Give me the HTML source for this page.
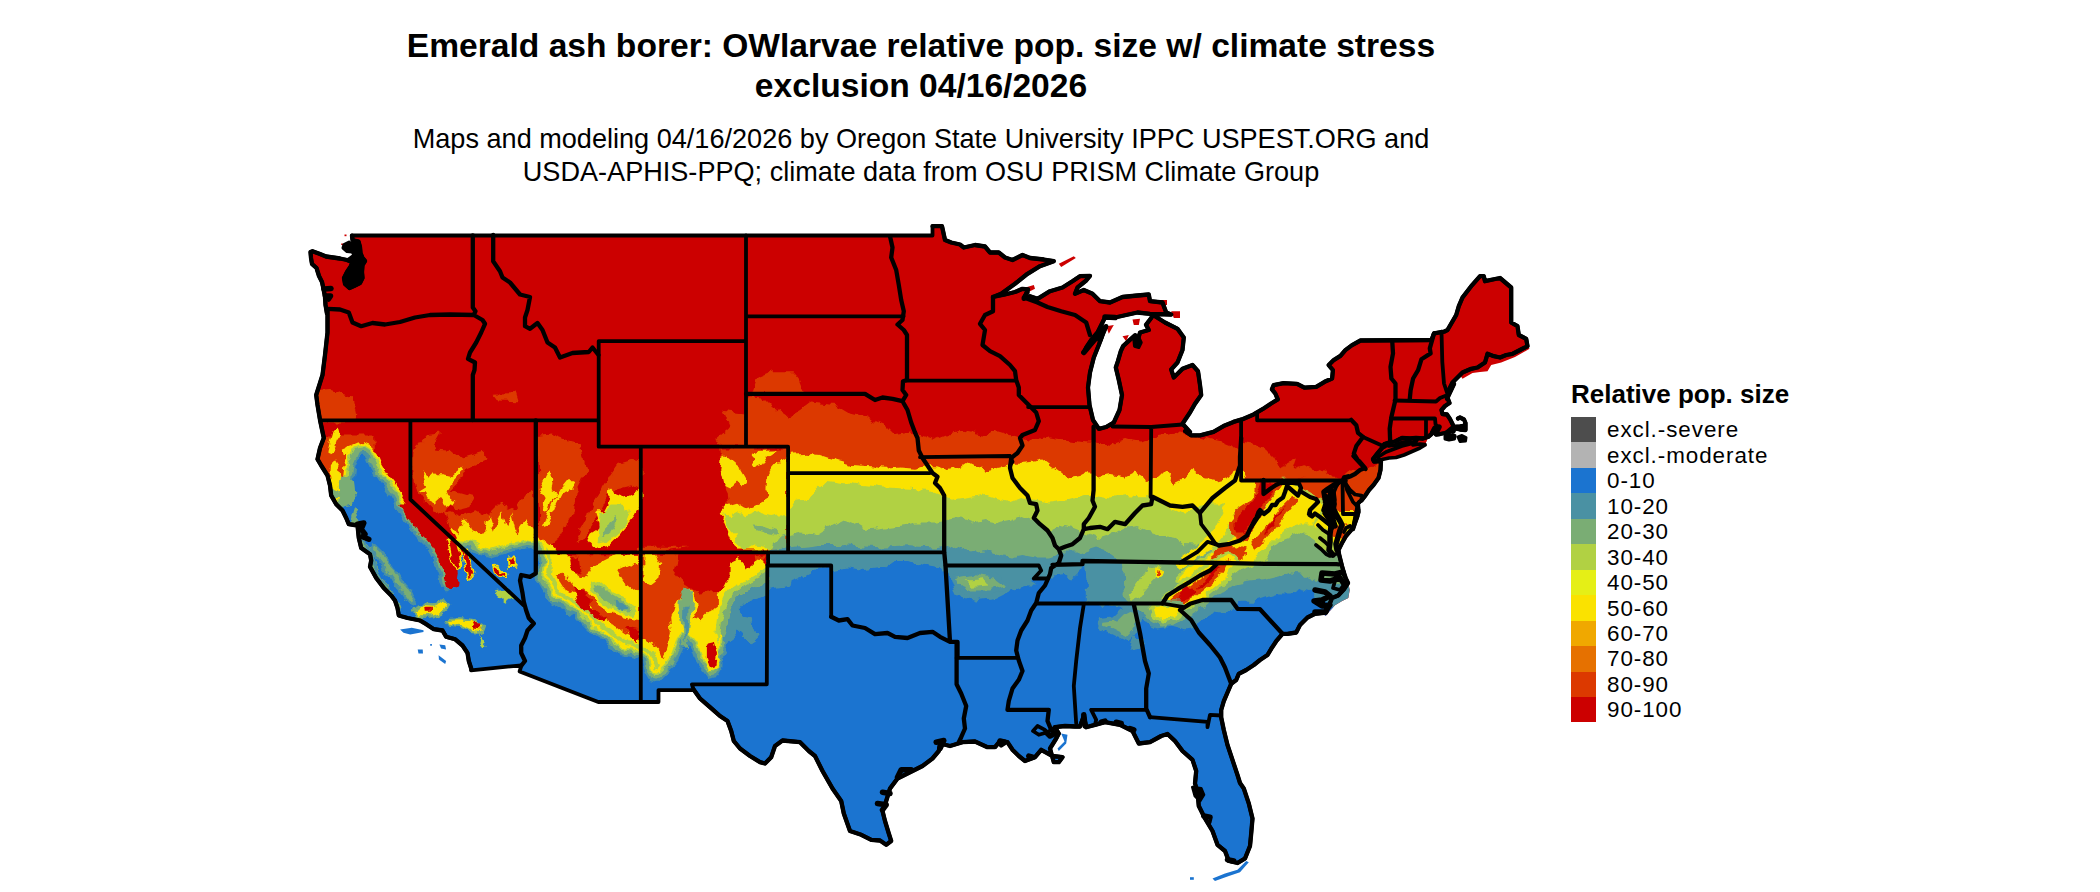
<!DOCTYPE html>
<html><head><meta charset="utf-8"><title>Emerald ash borer</title>
<style>
html,body{margin:0;padding:0;background:#fff;}
body{width:2100px;height:892px;position:relative;overflow:hidden;font-family:"Liberation Sans",sans-serif;color:#000;}
.t{position:absolute;white-space:nowrap;}
.title{left:0;width:1842px;text-align:center;font-weight:bold;font-size:33.6px;line-height:40px;top:25.5px;}
.sub{left:0;width:1842px;text-align:center;font-size:27.1px;line-height:33px;top:121.7px;}
.lt{left:1571px;top:379px;font-weight:bold;font-size:26px;line-height:30px;}
.ll{left:1607px;font-size:22.4px;line-height:26px;letter-spacing:0.95px;}
.sw{position:absolute;left:1571px;width:25px;height:25.5px;}
</style></head><body>

<svg width="2100" height="892" viewBox="0 0 2100 892" style="position:absolute;left:0;top:0">
<defs><clipPath id="land"><path d="M352.0,235.5 L932.5,235.5 L932.5,226.2 L942.0,226.2 L945.0,240.0 L951.2,242.5 L960.0,244.5 L963.8,247.5 L975.0,245.0 L985.0,246.5 L990.0,252.5 L998.8,252.5 L1005.0,257.5 L1012.5,260.0 L1022.5,255.0 L1030.0,258.0 L1043.8,259.5 L1053.8,261.2 L1040.0,266.2 L1027.5,273.8 L1015.0,283.8 L1001.2,293.8 L993.0,297.0 L1005.0,294.5 L1015.0,292.0 L1022.5,288.8 L1028.0,289.5 L1023.8,298.8 L1030.0,296.2 L1037.5,298.8 L1050.0,291.2 L1062.5,287.5 L1072.5,281.2 L1080.0,276.2 L1090.0,275.8 L1086.2,280.5 L1077.5,287.5 L1075.0,293.8 L1083.8,290.0 L1092.5,293.8 L1100.0,301.2 L1110.0,302.5 L1122.5,297.0 L1137.5,295.5 L1148.8,294.5 L1150.0,301.2 L1162.5,302.5 L1166.2,312.5 L1171.2,314.5 L1150.0,313.8 L1137.5,312.5 L1126.2,315.0 L1115.0,317.5 L1105.0,317.5 L1102.5,322.5 L1097.5,332.5 L1091.2,340.0 L1086.2,347.5 L1083.8,352.5 L1090.0,345.0 L1097.5,336.2 L1106.2,326.2 L1102.5,335.0 L1098.8,345.0 L1093.8,357.5 L1090.0,372.5 L1088.0,387.5 L1089.5,405.0 L1093.0,420.0 L1098.8,428.8 L1106.2,427.0 L1113.8,422.5 L1119.5,410.0 L1122.0,395.0 L1118.8,380.0 L1115.8,367.5 L1118.0,360.8 L1120.8,351.2 L1123.2,346.0 L1128.8,340.8 L1135.2,335.2 L1137.5,341.2 L1140.0,332.5 L1148.8,330.0 L1146.0,324.8 L1151.2,318.0 L1153.0,315.0 L1165.0,322.5 L1177.5,328.8 L1183.8,337.5 L1182.5,350.0 L1177.5,362.5 L1171.2,369.5 L1173.8,377.5 L1182.5,368.8 L1192.5,365.0 L1198.0,371.2 L1200.0,385.0 L1201.2,395.0 L1195.0,403.8 L1190.0,412.5 L1182.5,423.8 L1190.0,432.0 L1185.1,431.1 L1190.9,435.3 L1200.1,435.3 L1213.5,431.9 L1223.5,426.1 L1233.5,421.9 L1241.9,419.4 L1253.6,414.4 L1263.6,408.5 L1271.1,403.5 L1277.8,399.4 L1275.3,393.5 L1271.9,389.3 L1273.6,385.2 L1283.6,383.1 L1297.0,383.8 L1304.5,387.7 L1316.2,386.8 L1324.6,381.8 L1332.1,378.5 L1332.9,370.1 L1328.7,365.1 L1333.7,360.1 L1340.4,355.9 L1345.4,350.1 L1352.1,345.1 L1360.5,340.5 L1431.5,340.0 L1434.0,333.4 L1444.0,331.7 L1447.5,330.0 L1456.2,315.0 L1458.8,306.2 L1462.5,297.5 L1471.2,286.2 L1480.0,276.2 L1483.8,276.2 L1485.0,281.2 L1500.0,278.0 L1511.2,287.5 L1511.2,322.5 L1517.5,326.2 L1518.8,335.0 L1526.2,338.8 L1527.5,346.2 L1520.0,350.0 L1512.5,353.8 L1506.2,355.0 L1500.0,357.5 L1493.8,356.2 L1487.5,353.8 L1485.0,362.5 L1477.5,367.5 L1471.2,368.8 L1462.5,372.5 L1457.5,377.5 L1452.5,382.5 L1448.8,390.0 L1447.0,398.8 L1454.0,384.0 L1447.0,396.5 L1449.5,403.0 L1445.0,406.0 L1441.5,410.0 L1442.5,414.0 L1447.0,414.5 L1450.0,419.0 L1452.5,424.0 L1454.0,427.0 L1460.0,426.5 L1464.0,426.0 L1465.5,423.0 L1464.0,419.5 L1460.0,417.5 L1458.0,418.5 L1460.0,417.5 L1464.0,419.5 L1465.5,423.0 L1465.5,430.0 L1460.0,429.5 L1455.0,428.5 L1451.0,430.0 L1448.0,432.0 L1445.0,433.0 L1440.0,434.0 L1436.0,434.5 L1433.0,431.5 L1431.5,434.0 L1428.0,437.0 L1423.0,438.5 L1416.0,438.0 L1410.0,438.5 L1402.0,438.0 L1395.0,441.5 L1389.0,442.5 L1384.5,444.0 L1382.0,448.0 L1377.0,454.0 L1373.0,459.0 L1374.0,461.5 L1381.0,461.0 L1381.0,461.0 L1380.5,470.0 L1378.5,478.0 L1373.5,485.0 L1369.0,490.0 L1365.0,496.0 L1361.5,500.5 L1359.5,501.8 L1357.5,504.2 L1357.0,506.0 L1358.5,510.0 L1357.5,516.0 L1355.0,523.0 L1353.0,529.0 L1358.0,505.0 L1358.5,512.0 L1356.0,520.0 L1352.0,529.0 L1346.0,536.0 L1342.0,543.0 L1338.5,550.0 L1339.0,554.0 L1340.5,560.0 L1342.0,566.0 L1344.0,573.0 L1346.0,579.0 L1343.0,572.5 L1348.0,583.0 L1343.8,589.5 L1338.2,595.5 L1332.0,598.0 L1326.2,612.5 L1315.0,613.8 L1307.5,617.5 L1300.0,625.0 L1296.2,632.5 L1287.5,633.8 L1282.5,633.8 L1276.2,641.2 L1271.2,648.8 L1267.5,655.0 L1260.0,660.0 L1253.8,665.0 L1246.2,670.0 L1238.8,673.8 L1236.2,680.0 L1231.2,683.8 L1227.5,692.5 L1223.8,701.2 L1221.2,710.0 L1221.2,717.5 L1223.8,730.0 L1227.5,745.0 L1232.5,760.0 L1237.5,775.0 L1240.0,783.0 L1243.8,788.5 L1248.8,803.5 L1252.5,818.5 L1251.2,833.5 L1250.0,846.0 L1245.0,858.5 L1237.5,863.0 L1228.8,861.0 L1225.0,851.0 L1217.5,844.8 L1212.5,831.0 L1205.0,818.5 L1198.8,806.0 L1197.5,792.2 L1195.0,783.5 L1196.2,771.0 L1192.5,759.8 L1182.5,751.0 L1175.0,741.0 L1167.5,734.0 L1161.2,736.0 L1150.0,742.2 L1138.8,743.5 L1132.5,731.0 L1120.0,724.8 L1105.0,722.2 L1095.0,724.8 L1086.2,727.2 L1083.8,716.0 L1080.0,726.5 L1075.0,726.5 L1065.0,726.0 L1055.0,727.2 L1058.8,733.5 L1056.2,738.5 L1050.0,748.5 L1053.8,762.2 L1058.8,762.2 L1062.5,757.2 L1052.5,756.0 L1041.2,749.8 L1035.0,757.2 L1025.0,761.0 L1018.8,756.0 L1012.5,749.8 L1007.5,742.2 L1000.0,741.0 L995.0,747.2 L987.5,747.2 L975.0,741.5 L962.5,742.2 L950.0,746.0 L940.0,743.5 L938.8,751.0 L932.5,758.5 L922.5,766.0 L910.0,772.2 L897.5,778.5 L890.0,788.5 L886.2,801.0 L882.5,811.0 L885.0,821.0 L888.8,833.5 L891.2,841.0 L886.2,844.8 L880.0,840.5 L871.2,839.8 L861.2,834.8 L850.0,831.0 L843.8,813.5 L841.2,801.0 L832.5,788.5 L822.5,771.0 L815.0,756.0 L808.8,751.0 L800.0,742.2 L782.5,740.5 L775.0,746.0 L771.2,757.2 L765.0,763.5 L760.0,762.2 L750.0,756.0 L740.0,748.5 L733.8,741.0 L731.2,731.0 L727.5,721.0 L720.0,716.0 L710.0,707.2 L700.0,698.5 L693.8,689.8 L693.8,690.1 L658.5,690.1 L658.5,702.0 L598.3,702.0 L519.6,671.4 L521.5,665.3 L471.0,670.3 L471.2,668.5 L468.8,661.0 L467.5,653.0 L462.5,645.5 L455.0,639.2 L446.2,636.8 L442.5,630.5 L433.8,629.2 L426.2,624.2 L420.0,620.5 L407.5,618.0 L398.8,615.5 L397.5,608.0 L395.0,600.5 L391.2,595.5 L383.8,588.0 L376.2,578.0 L370.0,566.8 L371.2,560.5 L370.0,554.2 L361.2,548.0 L358.8,538.0 L357.5,525.5 L348.8,524.2 L346.2,518.0 L342.5,510.5 L336.2,504.2 L331.2,495.5 L330.0,485.5 L327.5,475.5 L321.2,465.5 L317.5,459.2 L320.0,448.0 L323.8,438.0 L320.0,420.0 L317.5,405.0 L316.2,395.0 L322.5,375.0 L325.0,355.0 L327.5,332.5 L327.5,315.0 L327.5,308.8 L327.0,314.0 L326.5,311.0 L325.5,305.0 L325.0,297.0 L323.5,289.0 L322.0,282.0 L319.0,276.0 L316.5,268.0 L312.0,264.0 L311.0,258.0 L310.5,252.0 L312.5,251.2 L320.0,254.0 L326.0,256.5 L333.0,257.5 L340.0,258.5 L347.0,260.0 L352.0,262.0 L351.0,266.0 L347.0,272.0 L344.0,278.0 L345.0,284.0 L349.5,288.0 L354.0,286.0 L360.0,283.0 L362.5,278.0 L362.0,272.0 L362.5,265.0 L365.0,261.0 L362.5,258.0 L360.5,253.0 L360.0,247.0 L358.5,241.5 L352.5,240.0 L352.0,235.7Z"/><path d="M1348.3,583.3 L1349.7,590.0 L1348.3,598.0 L1341.7,601.3 L1335.0,605.3 L1328.3,612.7 L1325.7,616.0 L1321.7,612.7 L1331.7,600.0 L1343.7,589.3Z"/><path d="M1373.0,460.0 L1382.0,459.5 L1389.0,458.0 L1396.0,457.5 L1404.0,455.0 L1412.0,451.5 L1420.0,448.0 L1425.0,445.0 L1424.0,442.0 L1418.0,440.0 L1410.0,444.0 L1402.0,446.0 L1394.0,449.0 L1386.0,452.0 L1378.0,457.0Z"/><path d="M1373.0,460.0 L1384.5,444.0 L1395.0,441.5 L1402.0,438.0 L1416.0,438.0 L1428.0,437.0 L1425.0,445.0 L1420.0,448.0 L1404.0,455.0 L1389.0,458.0Z"/></clipPath></defs>
<defs><filter id="rough" x="0" y="0" width="2100" height="892" filterUnits="userSpaceOnUse" color-interpolation-filters="sRGB"><feTurbulence type="fractalNoise" baseFrequency="0.09" numOctaves="3" seed="7" result="n"/><feDisplacementMap in="SourceGraphic" in2="n" scale="9" xChannelSelector="R" yChannelSelector="G"/></filter></defs>
<g clip-path="url(#land)">
<rect x="270" y="200" width="1300" height="700" fill="#cc0000"/>
<g filter="url(#rough)">
<rect x="270" y="200" width="1300" height="700" fill="#cc0000"/>
<path d="M315.0,391.2 L330.0,390.0 L352.5,397.5 L356.2,415.0 L355.0,422.5 L315.0,422.5Z" fill="#dc3900"/>
<path d="M315.0,435.5 L375.0,435.5 L376.2,453.0 L365.0,454.2 L353.8,465.5 L348.8,483.0 L340.0,495.5 L332.5,498.0 L327.5,475.5 L315.0,459.2Z" fill="#dc3900"/>
<path d="M492.5,393.8 L516.2,393.0 L518.8,401.2 L497.5,400.5Z" fill="#dc3900"/>
<path d="M722.5,410.0 L745.5,412.5 L745.5,446.2 L723.8,446.2 L715.0,440.0 L730.0,427.5Z" fill="#dc3900"/>
<path d="M752.5,393.0 L757.5,377.5 L772.5,371.2 L792.5,371.2 L800.0,380.0 L805.0,393.0Z" fill="#dc3900"/>
<path d="M413.6,451.8 L427.0,435.1 L442.0,433.4 L433.6,448.4 L450.4,450.1 L460.4,458.4 L483.8,451.8 L485.4,460.1 L467.1,468.5 L460.4,480.2 L450.4,490.2 L473.7,496.9 L470.4,506.9 L457.0,510.2 L450.4,503.6 L443.7,513.6 L433.6,510.2 L423.6,500.2 L415.3,488.5 L411.9,468.5Z" fill="#dc3900"/>
<path d="M442.0,510.2 L458.7,516.9 L475.4,510.2 L487.1,516.9 L500.5,503.6 L513.8,510.2 L525.5,493.5 L533.9,490.2 L537.2,543.6 L525.5,547.0 L513.8,543.6 L500.5,545.3 L487.1,547.0 L475.4,548.7 L463.7,542.0 L453.7,533.6 L447.0,523.6Z" fill="#dc3900"/>
<path d="M538.1,435.1 L550.6,433.4 L567.3,440.1 L580.7,443.4 L584.0,460.1 L587.3,468.5 L582.3,480.2 L575.6,493.5 L574.0,510.2 L567.3,523.6 L560.6,537.0 L550.6,545.3 L538.1,547.0Z" fill="#dc3900"/>
<path d="M609.1,476.8 L617.4,465.1 L634.1,460.1 L641.6,461.8 L641.6,490.2 L630.8,485.2 L617.4,488.5 L607.4,496.9 L599.0,513.6 L590.7,526.9 L584.0,540.3 L575.6,543.6 L580.7,526.9 L590.7,510.2 L594.0,500.2Z" fill="#dc3900"/>
<path d="M537.1,554.2 L639.0,554.2 L639.0,546.7 L690.0,546.7 L643.4,553.4 L678.5,554.2 L675.2,573.4 L683.5,583.4 L693.6,590.1 L700.2,593.5 L716.9,591.8 L727.0,590.1 L732.0,581.8 L738.7,573.4 L745.3,570.1 L755.4,568.4 L753.7,556.7 L765.4,554.2 L765.4,590.1 L750.4,596.8 L742.0,596.8 L733.6,613.5 L732.0,633.6 L727.0,646.9 L720.3,670.3 L706.9,672.0 L700.2,663.6 L693.6,646.9 L686.9,633.6 L680.2,643.6 L675.2,656.9 L668.5,663.6 L656.8,660.3 L648.4,651.9 L642.6,643.6 L639.0,646.9 L630.7,650.3 L620.7,648.6 L610.6,641.9 L600.6,633.6 L590.6,626.9 L582.2,618.5 L573.9,608.5 L562.2,603.5 L552.2,596.8 L545.5,586.8 L540.5,576.8 L537.1,566.7Z" fill="#dc3900"/>
<path d="M720.3,448.4 L787.2,448.4 L787.2,549.5 L737.0,549.5 L733.7,543.6 L730.4,536.9 L727.0,528.6 L723.7,520.2 L718.7,513.6 L723.7,510.2 L728.7,503.5 L727.8,493.5 L723.7,485.2 L720.3,470.1 L721.2,461.8Z" fill="#dc3900"/>
<path d="M330.9,465.1 L335.9,460.1 L340.1,466.8 L341.8,480.2 L340.1,496.9 L335.9,503.6 L332.6,490.2 L330.1,476.8Z" fill="#fae200"/>
<path d="M333.4,431.7 L337.6,426.7 L339.3,433.4 L335.9,443.4 L332.6,453.4 L328.4,451.8Z" fill="#fae200"/>
<path d="M341.8,448.4 L355.1,443.4 L357.6,447.6 L348.4,455.1 L342.6,455.1Z" fill="#fae200"/>
<path d="M432.0,470.1 L437.0,475.2 L443.7,475.2 L450.4,476.8 L460.4,468.5 L462.0,471.8 L450.4,483.5 L447.0,488.5 L450.4,496.9 L455.4,501.0 L453.7,505.2 L445.3,503.6 L440.3,496.9 L433.6,503.6 L427.0,500.2 L425.3,493.5 L418.6,491.9 L427.0,486.8 L423.6,476.8 L422.8,470.1 L428.6,476.8Z" fill="#fae200"/>
<path d="M450.4,526.9 L458.7,532.8 L465.4,520.3 L473.7,532.8 L483.8,531.1 L488.8,516.9 L493.8,532.8 L502.1,510.2 L507.2,525.3 L512.2,513.6 L517.2,532.8 L525.5,520.3 L533.9,531.1 L537.2,545.3 L467.1,548.7 L457.0,540.3Z" fill="#fae200"/>
<path d="M545.6,476.8 L550.6,468.5 L552.3,480.2 L550.6,490.2 L557.3,493.5 L550.6,503.6 L547.2,513.6 L542.2,510.2 L545.6,496.9 L540.6,488.5Z" fill="#fae200"/>
<path d="M560.6,488.5 L567.3,480.2 L575.6,480.2 L570.6,490.2 L562.3,493.5 L553.9,510.2 L548.9,523.6 L543.9,525.3 L550.6,508.6 L555.6,496.9Z" fill="#fae200"/>
<path d="M610.7,488.5 L617.4,493.5 L627.4,496.9 L641.6,490.2 L641.6,503.6 L634.1,516.9 L625.8,526.9 L617.4,537.0 L607.4,547.0 L594.0,548.7 L587.3,540.3 L590.7,533.6 L600.7,526.9 L595.7,510.2 L604.0,510.2 L609.1,500.2Z" fill="#fae200"/>
<path d="M537.1,554.2 L570.5,554.2 L568.9,560.0 L572.2,571.7 L580.6,578.4 L587.2,576.8 L590.6,566.7 L600.6,561.7 L614.0,555.0 L639.0,555.0 L639.0,566.7 L627.3,565.1 L617.3,570.1 L624.0,581.8 L634.0,590.1 L639.0,593.5 L639.0,620.2 L627.3,618.5 L615.6,615.2 L600.6,606.8 L590.6,595.1 L583.9,588.4 L573.9,590.1 L570.5,581.8 L562.2,573.4 L555.5,578.4 L553.8,590.1 L562.2,595.1 L572.2,595.1 L555.5,603.5 L545.5,595.1 L538.8,581.8 L537.1,566.7Z" fill="#fae200"/>
<path d="M643.4,555.0 L655.1,555.0 L660.1,563.4 L658.5,578.4 L650.1,585.1 L643.4,581.8Z" fill="#fae200"/>
<path d="M728.6,563.4 L738.7,558.4 L747.0,568.4 L760.4,558.4 L765.4,560.0 L765.4,590.1 L750.4,596.8 L742.0,596.8 L733.6,613.5 L732.0,633.6 L727.0,646.9 L720.3,670.3 L706.9,672.0 L700.2,663.6 L693.6,646.9 L686.9,633.6 L680.2,643.6 L675.2,656.9 L668.5,663.6 L660.1,662.0 L666.8,650.3 L671.8,633.6 L670.2,618.5 L673.5,606.8 L681.9,595.1 L690.2,588.4 L695.2,595.1 L696.9,606.8 L693.6,618.5 L700.2,620.2 L706.9,613.5 L716.9,606.8 L716.9,595.1 L723.6,588.4 L728.6,578.4Z" fill="#fae200"/>
<path d="M600.7,513.6 L610.7,503.6 L620.7,503.6 L630.8,510.2 L627.4,523.6 L617.4,533.6 L607.4,542.0 L597.4,543.6 L599.0,530.3Z" fill="#b1d143"/>
<path d="M607.4,526.9 L614.1,516.9 L617.4,520.3 L610.7,532.0 L604.0,538.6Z" fill="#7aad74"/>
<path d="M722.8,454.2 L733.7,463.4 L740.4,468.4 L746.2,478.5 L741.2,486.8 L737.0,482.6 L730.4,488.5 L723.7,485.2 L720.3,470.1 L722.0,458.4Z" fill="#fae200"/>
<path d="M759.6,450.1 L777.1,449.2 L767.1,455.9 L762.1,463.4 L753.7,467.6 L750.4,463.4 L755.4,459.3 L750.4,455.9Z" fill="#fae200"/>
<path d="M787.2,455.9 L780.5,460.1 L772.1,470.1 L766.3,480.1 L765.4,488.5 L769.6,496.8 L760.4,501.9 L753.7,505.2 L745.4,507.7 L738.7,503.5 L730.4,506.0 L728.7,503.5 L718.7,513.6 L723.7,520.2 L727.0,528.6 L730.4,536.9 L733.7,543.6 L737.0,549.5 L787.2,549.5Z" fill="#fae200"/>
<path d="M722.0,513.6 L730.4,515.2 L738.7,511.0 L745.4,515.2 L757.1,511.0 L763.8,515.2 L772.1,516.9 L780.5,515.2 L787.2,518.6 L787.2,549.5 L767.1,549.5 L762.1,545.3 L753.7,544.5 L747.1,548.6 L740.4,549.5 L737.0,543.6 L735.4,535.3 L730.4,530.3 L727.0,523.6Z" fill="#b1d143"/>
<path d="M787.2,533.6 L778.8,536.9 L773.8,543.6 L772.1,549.5 L787.2,549.5Z" fill="#7aad74"/>
<path d="M753.7,524.4 L763.8,525.2 L778.8,530.3 L778.8,535.3 L767.1,533.6 L757.1,530.3Z" fill="#7aad74"/>
<path d="M327.5,478.0 L336.2,483.0 L348.8,481.8 L354.5,488.0 L355.5,503.0 L350.0,496.8 L340.0,491.8 L330.0,488.0Z" fill="#fae200"/>
<path d="M330.0,488.0 L340.0,491.8 L350.0,496.8 L355.5,503.0 L358.8,520.5 L361.2,530.5 L367.5,545.5 L373.8,558.0 L380.0,571.8 L387.5,584.2 L395.0,595.5 L400.0,605.5 L397.5,613.0 L391.2,598.0 L382.5,588.0 L375.0,578.0 L368.8,565.5 L370.5,559.2 L368.0,554.2 L360.0,548.0 L357.5,538.0 L355.5,525.5 L347.5,524.2 L345.0,518.0 L341.2,510.5 L335.0,504.2 L330.0,495.5Z" fill="#7aad74"/>
<path d="M537.5,560.0 L535.5,578.4 L542.1,590.1 L550.5,603.5 L562.2,610.2 L573.9,615.2 L582.2,625.2 L590.6,633.6 L600.6,640.2 L610.6,648.6 L620.7,655.3 L630.7,656.9 L640.7,660.3 L641.8,660.3 L645.1,672.0 L650.1,680.3" fill="none" stroke="#fae200" stroke-width="40.0" stroke-linejoin="round" stroke-linecap="round"/>
<path d="M537.5,560.0 L535.5,578.4 L542.1,590.1 L550.5,603.5 L562.2,610.2 L573.9,615.2 L582.2,625.2 L590.6,633.6 L600.6,640.2 L610.6,648.6 L620.7,655.3 L630.7,656.9 L640.7,660.3 L641.8,660.3 L645.1,672.0 L650.1,680.3" fill="none" stroke="#b1d143" stroke-width="30.0" stroke-linejoin="round" stroke-linecap="round"/>
<path d="M537.5,560.0 L535.5,578.4 L542.1,590.1 L550.5,603.5 L562.2,610.2 L573.9,615.2 L582.2,625.2 L590.6,633.6 L600.6,640.2 L610.6,648.6 L620.7,655.3 L630.7,656.9 L640.7,660.3 L641.8,660.3 L645.1,672.0 L650.1,680.3" fill="none" stroke="#7aad74" stroke-width="21.0" stroke-linejoin="round" stroke-linecap="round"/>
<path d="M537.5,560.0 L535.5,578.4 L542.1,590.1 L550.5,603.5 L562.2,610.2 L573.9,615.2 L582.2,625.2 L590.6,633.6 L600.6,640.2 L610.6,648.6 L620.7,655.3 L630.7,656.9 L640.7,660.3 L641.8,660.3 L645.1,672.0 L650.1,680.3" fill="none" stroke="#4a91a3" stroke-width="9.0" stroke-linejoin="round" stroke-linecap="round"/>
<path d="M397.5,618.0 L401.2,613.0 L400.0,605.5 L395.0,595.5 L387.5,584.2 L380.0,571.8 L373.8,558.0 L367.5,545.5 L361.2,530.5 L357.5,524.2 L348.8,524.2 L345.5,519.2 L341.2,513.0 L343.8,506.0 L352.5,503.5 L355.5,495.5 L353.8,480.5 L355.5,465.5 L361.2,453.0 L365.0,455.5 L370.5,468.0 L378.0,480.5 L388.0,493.5 L395.5,506.0 L403.0,518.5 L410.5,531.0 L420.0,541.0 L427.5,548.5 L433.8,560.5 L437.5,573.0 L440.0,583.0 L447.5,592.5 L455.5,585.5 L457.0,574.2 L453.8,563.0 L451.2,553.0 L460.0,548.0 L470.0,549.2 L480.0,555.0 L490.0,558.0 L502.5,554.2 L515.0,550.5 L527.5,548.0 L536.2,549.2 L537.5,560.0 L535.5,578.4 L542.1,590.1 L550.5,603.5 L562.2,610.2 L573.9,615.2 L582.2,625.2 L590.6,633.6 L600.6,640.2 L610.6,648.6 L620.7,655.3 L630.7,656.9 L640.7,660.3 L641.8,660.3 L645.1,672.0 L650.1,680.3 L658.5,682.0 L666.8,673.6 L673.5,667.0 L678.5,660.3 L681.9,650.3 L685.2,640.2 L690.2,646.9 L693.6,656.9 L700.2,667.0 L705.2,673.6 L708.6,678.7 L716.9,677.0 L722.0,668.6 L723.6,656.9 L727.0,646.9 L732.0,638.6 L738.7,630.2 L747.0,636.9 L752.0,643.6 L757.0,640.2 L755.4,630.2 L750.4,620.2 L742.0,618.5 L738.7,611.8 L745.3,603.5 L755.4,598.5 L765.4,595.1 L768.7,590.1" fill="none" stroke="#fae200" stroke-width="22.0" stroke-linejoin="round" stroke-linecap="round"/>
<path d="M397.5,618.0 L401.2,613.0 L400.0,605.5 L395.0,595.5 L387.5,584.2 L380.0,571.8 L373.8,558.0 L367.5,545.5 L361.2,530.5 L357.5,524.2 L348.8,524.2 L345.5,519.2 L341.2,513.0 L343.8,506.0 L352.5,503.5 L355.5,495.5 L353.8,480.5 L355.5,465.5 L361.2,453.0 L365.0,455.5 L370.5,468.0 L378.0,480.5 L388.0,493.5 L395.5,506.0 L403.0,518.5 L410.5,531.0 L420.0,541.0 L427.5,548.5 L433.8,560.5 L437.5,573.0 L440.0,583.0 L447.5,592.5 L455.5,585.5 L457.0,574.2 L453.8,563.0 L451.2,553.0 L460.0,548.0 L470.0,549.2 L480.0,555.0 L490.0,558.0 L502.5,554.2 L515.0,550.5 L527.5,548.0 L536.2,549.2 L537.5,560.0 L535.5,578.4 L542.1,590.1 L550.5,603.5 L562.2,610.2 L573.9,615.2 L582.2,625.2 L590.6,633.6 L600.6,640.2 L610.6,648.6 L620.7,655.3 L630.7,656.9 L640.7,660.3 L641.8,660.3 L645.1,672.0 L650.1,680.3 L658.5,682.0 L666.8,673.6 L673.5,667.0 L678.5,660.3 L681.9,650.3 L685.2,640.2 L690.2,646.9 L693.6,656.9 L700.2,667.0 L705.2,673.6 L708.6,678.7 L716.9,677.0 L722.0,668.6 L723.6,656.9 L727.0,646.9 L732.0,638.6 L738.7,630.2 L747.0,636.9 L752.0,643.6 L757.0,640.2 L755.4,630.2 L750.4,620.2 L742.0,618.5 L738.7,611.8 L745.3,603.5 L755.4,598.5 L765.4,595.1 L768.7,590.1" fill="none" stroke="#b1d143" stroke-width="17.0" stroke-linejoin="round" stroke-linecap="round"/>
<path d="M397.5,618.0 L401.2,613.0 L400.0,605.5 L395.0,595.5 L387.5,584.2 L380.0,571.8 L373.8,558.0 L367.5,545.5 L361.2,530.5 L357.5,524.2 L348.8,524.2 L345.5,519.2 L341.2,513.0 L343.8,506.0 L352.5,503.5 L355.5,495.5 L353.8,480.5 L355.5,465.5 L361.2,453.0 L365.0,455.5 L370.5,468.0 L378.0,480.5 L388.0,493.5 L395.5,506.0 L403.0,518.5 L410.5,531.0 L420.0,541.0 L427.5,548.5 L433.8,560.5 L437.5,573.0 L440.0,583.0 L447.5,592.5 L455.5,585.5 L457.0,574.2 L453.8,563.0 L451.2,553.0 L460.0,548.0 L470.0,549.2 L480.0,555.0 L490.0,558.0 L502.5,554.2 L515.0,550.5 L527.5,548.0 L536.2,549.2 L537.5,560.0 L535.5,578.4 L542.1,590.1 L550.5,603.5 L562.2,610.2 L573.9,615.2 L582.2,625.2 L590.6,633.6 L600.6,640.2 L610.6,648.6 L620.7,655.3 L630.7,656.9 L640.7,660.3 L641.8,660.3 L645.1,672.0 L650.1,680.3 L658.5,682.0 L666.8,673.6 L673.5,667.0 L678.5,660.3 L681.9,650.3 L685.2,640.2 L690.2,646.9 L693.6,656.9 L700.2,667.0 L705.2,673.6 L708.6,678.7 L716.9,677.0 L722.0,668.6 L723.6,656.9 L727.0,646.9 L732.0,638.6 L738.7,630.2 L747.0,636.9 L752.0,643.6 L757.0,640.2 L755.4,630.2 L750.4,620.2 L742.0,618.5 L738.7,611.8 L745.3,603.5 L755.4,598.5 L765.4,595.1 L768.7,590.1" fill="none" stroke="#7aad74" stroke-width="13.0" stroke-linejoin="round" stroke-linecap="round"/>
<path d="M397.5,618.0 L401.2,613.0 L400.0,605.5 L395.0,595.5 L387.5,584.2 L380.0,571.8 L373.8,558.0 L367.5,545.5 L361.2,530.5 L357.5,524.2 L348.8,524.2 L345.5,519.2 L341.2,513.0 L343.8,506.0 L352.5,503.5 L355.5,495.5 L353.8,480.5 L355.5,465.5 L361.2,453.0 L365.0,455.5 L370.5,468.0 L378.0,480.5 L388.0,493.5 L395.5,506.0 L403.0,518.5 L410.5,531.0 L420.0,541.0 L427.5,548.5 L433.8,560.5 L437.5,573.0 L440.0,583.0 L447.5,592.5 L455.5,585.5 L457.0,574.2 L453.8,563.0 L451.2,553.0 L460.0,548.0 L470.0,549.2 L480.0,555.0 L490.0,558.0 L502.5,554.2 L515.0,550.5 L527.5,548.0 L536.2,549.2 L537.5,560.0 L535.5,578.4 L542.1,590.1 L550.5,603.5 L562.2,610.2 L573.9,615.2 L582.2,625.2 L590.6,633.6 L600.6,640.2 L610.6,648.6 L620.7,655.3 L630.7,656.9 L640.7,660.3 L641.8,660.3 L645.1,672.0 L650.1,680.3 L658.5,682.0 L666.8,673.6 L673.5,667.0 L678.5,660.3 L681.9,650.3 L685.2,640.2 L690.2,646.9 L693.6,656.9 L700.2,667.0 L705.2,673.6 L708.6,678.7 L716.9,677.0 L722.0,668.6 L723.6,656.9 L727.0,646.9 L732.0,638.6 L738.7,630.2 L747.0,636.9 L752.0,643.6 L757.0,640.2 L755.4,630.2 L750.4,620.2 L742.0,618.5 L738.7,611.8 L745.3,603.5 L755.4,598.5 L765.4,595.1 L768.7,590.1" fill="none" stroke="#4a91a3" stroke-width="6.0" stroke-linejoin="round" stroke-linecap="round"/>
<path d="M746.2,410.0 L747.5,396.2 L762.5,397.5 L772.5,407.5 L787.5,417.5 L800.0,410.0 L810.0,402.5 L835.0,405.0 L847.5,412.5 L867.5,417.5 L885.0,425.0 L895.0,435.0 L910.0,432.5 L920.0,435.0 L935.0,440.0 L947.5,435.0 L960.0,430.0 L972.5,432.5 L985.0,435.0 L997.5,431.2 L1010.0,435.0 L1020.0,437.5 L1035.0,440.0 L1050.0,437.5 L1067.5,440.0 L1085.0,442.5 L1095.0,442.5 L1110.0,445.0 L1125.0,440.0 L1140.0,442.5 L1151.2,440.0 L1160.0,435.0 L1175.0,432.5 L1185.0,435.0 L1197.5,437.5 L1210.0,440.0 L1222.5,442.5 L1235.0,447.5 L1241.2,452.5 L1243.0,443.0 L1255.0,445.0 L1267.0,450.0 L1275.0,458.0 L1280.0,468.0 L1290.0,476.0 L1300.0,479.0 L1320.0,474.0 L1335.0,477.0 L1345.0,479.0 L1350.0,470.0 L1360.0,472.0 L1368.0,470.0 L1378.0,463.0 L1400.0,460.0 L1400.0,900.0 L788.5,900.0 L788.5,446.2 L746.0,446.2Z" fill="#dc3900"/>
<path d="M788.8,455.0 L805.0,453.8 L820.0,455.0 L835.0,460.0 L852.5,465.0 L870.0,466.2 L885.0,468.8 L900.0,467.5 L915.0,468.8 L925.0,466.2 L935.0,466.2 L947.5,470.0 L960.0,467.5 L967.5,462.5 L977.5,467.5 L987.5,470.0 L1000.0,467.5 L1010.0,463.8 L1022.5,463.8 L1035.0,462.5 L1045.0,460.0 L1055.0,467.5 L1067.5,477.5 L1080.0,475.0 L1090.0,470.0 L1097.5,477.5 L1110.0,475.0 L1125.0,477.5 L1135.0,472.5 L1147.5,480.0 L1157.5,477.5 L1165.0,470.0 L1175.0,482.5 L1185.0,477.5 L1192.5,470.0 L1202.5,477.5 L1215.0,480.0 L1225.0,477.5 L1235.0,472.5 L1240.0,465.0 L1245.0,478.0 L1255.0,490.0 L1270.0,495.0 L1287.0,497.0 L1297.0,500.0 L1303.6,497.0 L1313.6,502.0 L1318.6,503.5 L1330.0,508.0 L1338.7,512.0 L1355.4,512.0 L1380.0,512.0 L1380.0,900.0 L788.8,900.0Z" fill="#fae200"/>
<path d="M788.8,510.0 L795.0,500.0 L810.0,497.5 L822.5,485.0 L827.5,480.0 L847.5,482.5 L865.0,485.0 L885.0,487.5 L910.0,488.8 L930.0,490.0 L942.5,495.0 L955.0,500.0 L972.5,497.5 L985.0,495.0 L1000.0,500.0 L1010.0,502.5 L1022.5,497.5 L1035.0,500.0 L1050.0,502.5 L1067.5,500.0 L1085.0,495.0 L1095.0,495.0 L1110.0,497.5 L1125.0,495.0 L1140.0,496.2 L1150.0,496.2 L1160.0,505.0 L1175.0,510.0 L1185.0,515.0 L1192.5,507.5 L1202.5,505.0 L1210.0,502.5 L1225.0,500.0 L1235.0,505.0 L1245.0,510.0 L1255.0,520.0 L1265.0,527.0 L1280.0,523.5 L1290.0,520.0 L1300.0,523.5 L1310.0,523.5 L1318.6,528.5 L1327.0,530.0 L1335.0,545.0 L1345.0,540.0 L1352.0,530.0 L1380.0,530.0 L1380.0,900.0 L788.8,900.0Z" fill="#b1d143"/>
<path d="M788.8,535.0 L800.0,532.5 L817.5,535.0 L830.0,527.5 L845.0,520.0 L852.5,522.5 L865.0,530.0 L885.0,527.5 L905.0,525.0 L915.0,522.5 L935.0,522.5 L947.5,520.0 L960.0,517.5 L972.5,522.5 L985.0,520.0 L997.5,522.5 L1010.0,520.0 L1022.5,515.0 L1035.0,520.0 L1047.5,531.2 L1060.0,525.0 L1072.5,528.0 L1085.0,533.0 L1097.5,538.0 L1110.0,533.8 L1125.0,529.0 L1135.0,527.0 L1145.0,531.2 L1160.0,536.2 L1175.0,538.8 L1185.0,543.0 L1197.5,543.8 L1205.0,547.5 L1215.0,552.0 L1222.0,562.0 L1227.0,580.0 L1240.5,570.0 L1250.5,566.7 L1264.0,562.0 L1273.5,547.0 L1283.6,538.6 L1297.0,533.6 L1307.0,535.2 L1313.6,540.0 L1318.7,547.0 L1330.0,552.0 L1345.0,556.0 L1380.0,556.0 L1380.0,900.0 L788.8,900.0Z" fill="#7aad74"/>
<path d="M768.0,550.0 L797.5,547.5 L822.5,545.0 L840.0,545.0 L860.0,546.2 L885.0,547.5 L910.0,546.2 L935.0,547.5 L947.5,545.0 L960.0,550.0 L972.5,552.5 L985.0,550.0 L997.5,555.0 L1010.0,557.5 L1022.5,555.0 L1035.0,557.5 L1050.0,557.5 L1065.0,552.5 L1080.0,552.5 L1095.0,547.5 L1110.0,552.5 L1120.0,560.0 L1123.5,570.0 L1125.0,600.0 L1135.0,608.0 L1150.0,620.0 L1165.0,625.0 L1180.0,622.0 L1195.0,612.0 L1210.0,600.0 L1225.0,590.0 L1235.5,583.4 L1247.0,581.7 L1264.0,580.0 L1277.0,576.7 L1290.6,573.4 L1304.0,575.0 L1317.0,581.7 L1330.7,583.4 L1345.0,585.0 L1380.0,585.0 L1380.0,900.0 L768.0,900.0Z" fill="#4a91a3"/>
<path d="M768.7,590.0 L777.0,588.4 L790.4,586.8 L792.0,580.0 L800.5,576.8 L817.5,567.5 L835.0,570.0 L847.5,567.5 L865.0,570.0 L885.0,567.5 L895.0,560.0 L910.0,560.0 L925.0,565.0 L942.5,567.5 L950.0,578.0 L955.0,593.0 L975.0,600.5 L995.0,598.0 L1010.0,590.5 L1027.5,585.5 L1040.0,585.5 L1030.0,581.7 L1040.0,580.1 L1051.7,576.7 L1063.4,575.1 L1073.4,578.4 L1080.1,573.4 L1085.1,566.7 L1086.8,583.4 L1086.8,601.8 L1100.2,606.8 L1113.5,606.8 L1136.9,610.1 L1146.9,623.5 L1157.0,628.5 L1172.0,626.8 L1185.4,630.2 L1195.4,628.5 L1197.1,623.5 L1207.1,616.8 L1213.8,613.5 L1227.1,615.2 L1235.5,606.8 L1240.5,601.8 L1252.2,601.8 L1267.2,596.8 L1277.2,593.4 L1290.6,593.4 L1300.6,588.4 L1314.0,591.8 L1317.3,600.1 L1330.0,607.0 L1380.0,607.0 L1380.0,900.0 L768.7,900.0Z" fill="#1b74d0"/>
<path d="M397.5,618.0 L401.2,613.0 L400.0,605.5 L395.0,595.5 L387.5,584.2 L380.0,571.8 L373.8,558.0 L367.5,545.5 L361.2,530.5 L357.5,524.2 L348.8,524.2 L345.5,519.2 L341.2,513.0 L343.8,506.0 L352.5,503.5 L355.5,495.5 L353.8,480.5 L355.5,465.5 L361.2,453.0 L365.0,455.5 L370.5,468.0 L378.0,480.5 L388.0,493.5 L395.5,506.0 L403.0,518.5 L410.5,531.0 L420.0,541.0 L427.5,548.5 L433.8,560.5 L437.5,573.0 L440.0,583.0 L447.5,592.5 L455.5,585.5 L457.0,574.2 L453.8,563.0 L451.2,553.0 L460.0,548.0 L470.0,549.2 L480.0,555.0 L490.0,558.0 L502.5,554.2 L515.0,550.5 L527.5,548.0 L536.2,549.2 L537.5,560.0 L535.5,578.4 L542.1,590.1 L550.5,603.5 L562.2,610.2 L573.9,615.2 L582.2,625.2 L590.6,633.6 L600.6,640.2 L610.6,648.6 L620.7,655.3 L630.7,656.9 L640.7,660.3 L641.8,660.3 L645.1,672.0 L650.1,680.3 L658.5,682.0 L666.8,673.6 L673.5,667.0 L678.5,660.3 L681.9,650.3 L685.2,640.2 L690.2,646.9 L693.6,656.9 L700.2,667.0 L705.2,673.6 L708.6,678.7 L716.9,677.0 L722.0,668.6 L723.6,656.9 L727.0,646.9 L732.0,638.6 L738.7,630.2 L747.0,636.9 L752.0,643.6 L757.0,640.2 L755.4,630.2 L750.4,620.2 L742.0,618.5 L738.7,611.8 L745.3,603.5 L755.4,598.5 L765.4,595.1 L768.7,590.1 L782.0,590.0 L782.0,900.0 L280.0,900.0 L280.0,620.0Z" fill="#1b74d0"/>
<path d="M738.7,588.4 L730.3,596.8 L725.3,606.8 L722.0,620.2 L720.3,633.6 L716.9,643.6 L715.3,633.6 L716.9,620.2 L719.4,606.8 L723.6,596.8 L730.3,588.4 L737.0,583.4Z" fill="#b1d143"/>
<path d="M683.5,590.1 L690.2,588.4 L693.6,596.8 L691.9,610.2 L690.2,623.5 L688.5,636.9 L686.9,646.9 L683.5,643.6 L681.9,630.2 L680.2,616.8 L678.5,603.5 L680.2,595.1Z" fill="#7aad74"/>
<path d="M684.4,606.8 L688.5,606.8 L687.7,633.6 L685.2,643.6 L683.5,630.2Z" fill="#4a91a3"/>
<path d="M768.7,571.7 L760.4,576.8 L750.4,581.8 L738.7,588.4 L730.3,596.8 L725.3,606.8 L722.0,620.2 L720.3,633.6 L717.8,626.9 L719.4,613.5 L722.8,601.8 L728.6,591.8 L737.0,585.1 L747.0,580.1 L758.7,573.4 L768.7,565.1Z" fill="#b1d143"/>
<path d="M768.7,580.1 L760.4,583.4 L750.4,588.4 L740.3,595.1 L732.0,603.5 L728.6,615.2 L727.0,626.9 L723.6,640.2 L720.3,633.6 L722.0,620.2 L725.3,606.8 L730.3,596.8 L738.7,588.4 L750.4,581.8 L760.4,576.8 L768.7,571.7Z" fill="#7aad74"/>
<path d="M768.7,590.1 L765.4,595.1 L755.4,598.5 L745.3,603.5 L738.7,611.8 L742.0,618.5 L750.4,620.2 L755.4,630.2 L757.0,640.2 L752.0,643.6 L747.0,636.9 L738.7,630.2 L732.0,638.6 L727.0,646.9 L723.6,640.2 L727.0,626.9 L728.6,615.2 L732.0,603.5 L740.3,595.1 L750.4,588.4 L760.4,583.4 L768.7,580.1Z" fill="#4a91a3"/>
<path d="M706.9,643.6 L713.6,641.9 L716.9,653.6 L715.3,667.0 L710.3,668.6 L706.9,656.9Z" fill="#fae200" stroke="#fae200" stroke-width="5"/>
<path d="M706.9,643.6 L713.6,641.9 L716.9,653.6 L715.3,667.0 L710.3,668.6 L706.9,656.9Z" fill="#cc0000"/>
<path d="M407.5,503.5 L420.0,515.5 L440.0,533.0 L455.0,543.0 L465.0,550.5 L462.5,556.8 L457.0,558.0 L458.8,573.0 L457.0,584.2 L450.0,589.5 L446.0,585.0 L443.0,573.0 L439.5,560.5 L433.2,549.2 L426.5,540.5 L418.0,531.8 L410.5,521.8 L403.0,510.5 L400.0,503.5Z" fill="#cc0000"/>
<path d="M355.5,505.5 L358.8,520.5 L361.2,530.5 L367.5,545.5 L373.8,558.0 L380.0,571.8 L387.5,584.2 L395.0,595.5 L400.0,605.5 L398.0,614.2 L391.2,598.0 L382.5,588.0 L375.0,578.0 L368.8,565.5 L370.5,559.2 L368.0,554.2 L360.0,548.0 L357.5,538.0 L355.5,525.5 L350.0,524.2Z" fill="#7aad74"/>
<path d="M341.2,475.5 L353.8,479.2 L355.5,495.5 L352.5,503.5 L343.8,506.0 L341.2,513.0 L340.0,500.5 L338.8,488.0Z" fill="#7aad74"/>
<path d="M361.2,533.0 L367.5,546.8 L373.8,559.2 L380.0,573.0 L387.5,585.5 L395.0,596.8 L399.0,606.0 L396.2,603.0 L388.8,590.5 L381.2,579.2 L373.8,566.8 L366.2,551.8 L361.2,540.5Z" fill="#4a91a3"/>
<path d="M373.4,546.7 L383.4,556.7 L393.5,570.1 L401.8,581.8 L410.2,593.5 L415.2,601.8 L411.8,603.5 L405.2,595.1 L396.8,583.4 L388.4,571.7 L378.4,558.4 L371.7,550.0Z" fill="#4a91a3" stroke="#4a91a3" stroke-width="5.0" stroke-linejoin="round"/>
<path d="M373.4,546.7 L383.4,556.7 L393.5,570.1 L401.8,581.8 L410.2,593.5 L415.2,601.8 L411.8,603.5 L405.2,595.1 L396.8,583.4 L388.4,571.7 L378.4,558.4 L371.7,550.0Z" fill="#7aad74"/>
<path d="M413.5,610.2 L423.5,606.0 L433.6,606.8 L443.6,601.8 L448.6,605.2 L440.2,611.8 L430.2,615.2 L418.5,615.2Z" fill="#7aad74" stroke="#7aad74" stroke-width="5.0" stroke-linejoin="round"/>
<path d="M413.5,610.2 L423.5,606.0 L433.6,606.8 L443.6,601.8 L448.6,605.2 L440.2,611.8 L430.2,615.2 L418.5,615.2Z" fill="#fae200"/>
<path d="M425.2,607.7 L431.9,607.7 L431.9,612.7 L426.0,612.7Z" fill="#cc0000"/>
<path d="M446.9,621.0 L460.3,620.2 L473.6,621.9 L482.0,626.9 L480.3,631.9 L472.0,631.0 L460.3,625.2 L448.6,623.5Z" fill="#7aad74" stroke="#7aad74" stroke-width="4.0" stroke-linejoin="round"/>
<path d="M446.9,621.0 L460.3,620.2 L473.6,621.9 L482.0,626.9 L480.3,631.9 L472.0,631.0 L460.3,625.2 L448.6,623.5Z" fill="#fae200"/>
<path d="M472.0,622.7 L480.3,623.5 L480.3,630.2 L473.6,629.4Z" fill="#cc0000"/>
<path d="M477.0,633.6 L482.0,640.2 L487.0,646.9 L484.5,648.6 L479.5,641.9Z" fill="#b1d143"/>
<path d="M495.4,566.7 L505.4,573.4 L504.6,577.6 L497.0,572.6Z" fill="#fae200" stroke="#fae200" stroke-width="4.0" stroke-linejoin="round"/>
<path d="M495.4,566.7 L505.4,573.4 L504.6,577.6 L497.0,572.6Z" fill="#cc0000"/>
<path d="M508.7,558.4 L513.7,558.4 L513.7,565.1 L509.6,565.1Z" fill="#fae200" stroke="#fae200" stroke-width="4.0" stroke-linejoin="round"/>
<path d="M508.7,558.4 L513.7,558.4 L513.7,565.1 L509.6,565.1Z" fill="#cc0000"/>
<path d="M497.0,590.1 L507.1,588.4 L512.1,596.8 L505.4,601.8 L498.7,596.8Z" fill="#b1d143"/>
<path d="M570.5,555.9 L578.9,556.7 L580.6,573.4 L573.9,575.1 L569.7,565.1Z" fill="#cc0000"/>
<path d="M573.9,588.4 L583.9,590.1 L590.6,600.1 L590.6,610.2 L582.2,606.8 L575.5,598.5Z" fill="#cc0000"/>
<path d="M587.2,606.8 L597.3,610.2 L607.3,618.5 L600.6,620.2 L590.6,615.2Z" fill="#cc0000"/>
<path d="M624.0,626.9 L639.0,630.2 L639.0,641.9 L630.7,638.6Z" fill="#cc0000"/>
<path d="M448.6,540.0 L455.3,540.0 L458.6,553.4 L460.3,565.1 L456.9,568.4 L451.9,555.0Z" fill="#fae200" stroke="#fae200" stroke-width="4.0" stroke-linejoin="round"/>
<path d="M448.6,540.0 L455.3,540.0 L458.6,553.4 L460.3,565.1 L456.9,568.4 L451.9,555.0Z" fill="#cc0000"/>
<path d="M463.6,550.0 L467.0,550.0 L472.0,573.4 L468.6,578.4 L465.3,563.4Z" fill="#fae200" stroke="#fae200" stroke-width="3.0" stroke-linejoin="round"/>
<path d="M463.6,550.0 L467.0,550.0 L472.0,573.4 L468.6,578.4 L465.3,563.4Z" fill="#cc0000"/>
<path d="M1180.0,485.1 L1236.8,480.1 L1255.2,480.1 L1254.3,495.2 L1248.5,501.8 L1238.5,508.5 L1233.5,515.2 L1230.1,523.6 L1226.8,530.2 L1220.1,538.6 L1213.4,546.9 L1205.1,552.0 L1196.7,557.0 L1190.0,563.6 L1180.0,568.7 L1173.3,563.6 L1186.7,553.6 L1198.4,545.3 L1208.4,536.9 L1213.4,530.2 L1218.4,520.2 L1223.4,510.2 L1225.1,503.5 L1213.4,503.5 L1200.0,496.8 L1190.0,500.2 L1180.0,496.8Z" fill="#fae200"/>
<path d="M1283.6,480.1 L1323.7,503.5 L1313.6,523.6 L1296.9,523.6 L1283.6,530.2 L1273.6,540.3 L1263.5,550.3 L1253.5,558.6 L1243.5,563.6 L1230.1,563.6 L1210.1,563.6 L1200.0,572.0 L1186.7,580.4 L1176.7,580.4 L1190.0,567.0 L1206.7,557.0 L1220.1,546.9 L1235.1,538.6 L1250.2,533.6 L1261.9,513.5 L1273.6,496.8Z" fill="#b1d143" stroke="#b1d143" stroke-width="5.0" stroke-linejoin="round"/>
<path d="M1283.6,480.1 L1323.7,503.5 L1313.6,523.6 L1296.9,523.6 L1283.6,530.2 L1273.6,540.3 L1263.5,550.3 L1253.5,558.6 L1243.5,563.6 L1230.1,563.6 L1210.1,563.6 L1200.0,572.0 L1186.7,580.4 L1176.7,580.4 L1190.0,567.0 L1206.7,557.0 L1220.1,546.9 L1235.1,538.6 L1250.2,533.6 L1261.9,513.5 L1273.6,496.8Z" fill="#fae200"/>
<path d="M1255.2,479.3 L1283.6,479.3 L1280.2,486.8 L1273.6,496.8 L1266.9,505.2 L1261.9,513.5 L1256.8,523.6 L1250.2,533.6 L1245.2,540.3 L1235.1,538.6 L1230.1,533.6 L1230.1,523.6 L1233.5,515.2 L1238.5,508.5 L1248.5,501.8 L1254.3,495.2Z" fill="#dc3900"/>
<path d="M1262.7,480.1 L1278.6,481.0 L1270.2,496.8 L1258.5,510.2 L1250.2,523.6 L1243.5,533.6 L1236.0,533.6 L1234.3,525.2 L1240.1,513.5 L1250.2,503.5 L1258.5,493.5Z" fill="#cc0000"/>
<path d="M1290.3,498.5 L1296.9,500.2 L1286.9,513.5 L1278.6,523.6 L1270.2,533.6 L1260.2,545.3 L1253.5,550.3 L1250.2,545.3 L1260.2,533.6 L1270.2,521.9 L1280.2,508.5Z" fill="#dc3900"/>
<path d="M1286.9,503.5 L1280.2,515.2 L1270.2,528.6 L1263.5,536.9 L1266.9,528.6 L1276.9,515.2Z" fill="#cc0000"/>
<path d="M1213.4,550.3 L1223.4,545.3 L1236.8,545.3 L1246.8,548.6 L1243.5,557.0 L1233.5,562.0 L1220.1,563.6 L1211.7,558.6Z" fill="#dc3900"/>
<path d="M1218.8,563.4 L1230.5,560.0 L1223.8,573.4 L1212.1,583.4 L1202.1,591.8 L1192.0,600.1 L1178.7,603.5 L1168.7,601.8 L1178.7,593.4 L1190.4,585.9 L1200.4,577.6 L1210.4,569.2Z" fill="#b1d143" stroke="#b1d143" stroke-width="16.0" stroke-linejoin="round"/>
<path d="M1218.8,563.4 L1230.5,560.0 L1223.8,573.4 L1212.1,583.4 L1202.1,591.8 L1192.0,600.1 L1178.7,603.5 L1168.7,601.8 L1178.7,593.4 L1190.4,585.9 L1200.4,577.6 L1210.4,569.2Z" fill="#fae200" stroke="#fae200" stroke-width="9.0" stroke-linejoin="round"/>
<path d="M1218.8,563.4 L1230.5,560.0 L1223.8,573.4 L1212.1,583.4 L1202.1,591.8 L1192.0,600.1 L1178.7,603.5 L1168.7,601.8 L1178.7,593.4 L1190.4,585.9 L1200.4,577.6 L1210.4,569.2Z" fill="#dc3900"/>
<path d="M1215.4,568.4 L1220.4,568.4 L1212.1,578.4 L1203.7,586.8 L1197.1,590.1 L1203.7,581.7 L1210.4,573.4Z" fill="#cc0000"/>
<path d="M1185.4,588.4 L1193.7,587.6 L1195.4,595.1 L1187.0,598.4 L1177.0,600.1 L1180.4,593.4Z" fill="#cc0000"/>
<path d="M1153.6,608.5 L1163.6,606.8 L1177.0,607.6 L1180.4,611.8 L1172.0,616.8 L1162.0,618.5 L1155.3,613.5Z" fill="#7aad74" stroke="#7aad74" stroke-width="16.0" stroke-linejoin="round"/>
<path d="M1153.6,608.5 L1163.6,606.8 L1177.0,607.6 L1180.4,611.8 L1172.0,616.8 L1162.0,618.5 L1155.3,613.5Z" fill="#b1d143" stroke="#b1d143" stroke-width="8.0" stroke-linejoin="round"/>
<path d="M1153.6,608.5 L1163.6,606.8 L1177.0,607.6 L1180.4,611.8 L1172.0,616.8 L1162.0,618.5 L1155.3,613.5Z" fill="#fae200"/>
<path d="M1146.9,566.7 L1163.6,566.7 L1157.0,576.7 L1146.9,586.8 L1138.6,596.8 L1131.9,600.1 L1128.6,595.1 L1136.9,585.1 L1143.6,575.1Z" fill="#7aad74" stroke="#7aad74" stroke-width="10.0" stroke-linejoin="round"/>
<path d="M1146.9,566.7 L1163.6,566.7 L1157.0,576.7 L1146.9,586.8 L1138.6,596.8 L1131.9,600.1 L1128.6,595.1 L1136.9,585.1 L1143.6,575.1Z" fill="#b1d143"/>
<path d="M1157.0,570.0 L1162.0,570.9 L1160.3,575.1 L1157.0,575.1Z" fill="#fae200" stroke="#fae200" stroke-width="4.0" stroke-linejoin="round"/>
<path d="M1157.0,570.0 L1162.0,570.9 L1160.3,575.1 L1157.0,575.1Z" fill="#dc3900"/>
<path d="M1130.2,610.1 L1136.9,616.8 L1133.6,628.5 L1126.9,636.9 L1120.2,633.5 L1110.2,628.5 L1101.8,625.2 L1103.5,621.8 L1116.9,620.2 L1123.6,613.5Z" fill="#4a91a3" stroke="#4a91a3" stroke-width="10.0" stroke-linejoin="round"/>
<path d="M1130.2,610.1 L1136.9,616.8 L1133.6,628.5 L1126.9,636.9 L1120.2,633.5 L1110.2,628.5 L1101.8,625.2 L1103.5,621.8 L1116.9,620.2 L1123.6,613.5Z" fill="#7aad74"/>
<path d="M1133.6,636.9 L1143.6,636.9 L1145.3,643.6 L1136.9,650.2 L1128.6,651.9 L1130.2,643.6Z" fill="#4a91a3"/>
<path d="M1280.2,471.8 L1286.9,461.7 L1296.9,458.4 L1293.6,468.4 L1303.6,465.1 L1313.6,468.4 L1327.0,471.8 L1330.4,478.4 L1280.2,478.8Z" fill="#dc3900"/>
<path d="M1330.4,523.6 L1347.1,523.6 L1345.4,536.9 L1335.4,540.3 L1330.4,533.6Z" fill="#dc3900"/>
<path d="M955.0,578.0 L975.0,574.2 L995.0,578.0 L1005.0,585.5 L990.0,590.5 L970.0,590.5 L957.5,585.5Z" fill="#4a91a3" stroke="#4a91a3" stroke-width="8.0" stroke-linejoin="round"/>
<path d="M955.0,578.0 L975.0,574.2 L995.0,578.0 L1005.0,585.5 L990.0,590.5 L970.0,590.5 L957.5,585.5Z" fill="#7aad74"/>
<path d="M965.0,580.5 L985.0,579.2 L990.0,585.5 L972.5,586.8Z" fill="#b1d143"/>
<path d="M588.9,581.8 L597.3,580.1 L607.3,588.4 L620.7,595.1 L632.3,603.5 L637.4,611.8 L630.7,616.0 L620.7,613.5 L607.3,606.8 L597.3,598.5 L590.6,590.1Z" fill="#b1d143"/>
<path d="M593.9,585.1 L603.9,588.4 L617.3,596.8 L629.0,605.2 L632.3,611.0 L624.0,611.8 L614.0,606.8 L602.3,598.5 L595.6,591.8Z" fill="#7aad74"/>
<path d="M615.6,601.8 L624.0,603.5 L628.2,608.5 L622.3,611.0 L616.5,607.7Z" fill="#4a91a3"/>
</g>
</g>
<path d="M353.0,245.0 L357.0,244.5 L357.5,246.5 L354.5,247.5Z" fill="#cc0000"/><path d="M350.0,273.0 L354.0,275.0 L354.5,277.0 L351.0,275.5Z" fill="#cc0000"/><path d="M344.5,234.5 L346.5,234.5 L346.5,236.2 L344.5,236.2Z" fill="#cc0000"/><path d="M341.2,243.5 L343.2,243.5 L343.2,245.0 L341.2,245.0Z" fill="#cc0000"/><path d="M1058.8,263.8 L1073.8,256.2 L1075.8,258.0 L1061.2,267.0Z" fill="#cc0000"/><path d="M1021.2,288.8 L1033.8,285.0 L1035.0,288.8 L1027.5,292.5Z" fill="#cc0000"/><path d="M1161.2,300.0 L1167.0,300.0 L1167.0,305.0 L1161.2,305.0Z" fill="#cc0000"/><path d="M1171.2,311.2 L1180.0,311.2 L1180.0,318.0 L1173.8,318.0Z" fill="#cc0000"/><path d="M1132.5,319.5 L1140.0,318.8 L1138.8,325.0 L1133.8,325.0Z" fill="#cc0000"/><path d="M1106.2,326.2 L1113.8,325.0 L1108.8,333.8Z" fill="#cc0000"/><path d="M1122.5,336.2 L1128.8,335.0 L1126.2,341.2Z" fill="#cc0000"/><path d="M400.1,629.4 L411.8,627.7 L423.5,630.2 L423.5,631.9 L410.2,634.4 L403.5,632.7Z" fill="#1b74d0"/><path d="M417.7,649.4 L422.7,649.4 L423.0,653.6 L418.5,653.6Z" fill="#1b74d0"/><path d="M439.4,644.4 L445.2,645.2 L446.1,649.4 L441.1,648.6Z" fill="#1b74d0"/><path d="M438.6,655.3 L446.1,661.1 L445.2,664.0 L438.9,659.4Z" fill="#1b74d0"/><path d="M430.2,644.1 L431.9,644.1 L431.9,645.7 L430.2,645.7Z" fill="#1b74d0"/><path d="M1212.5,878.5 L1225.0,873.5 L1237.5,869.8 L1246.2,861.0 L1248.8,862.2 L1240.0,872.2 L1227.5,876.5 L1215.0,881.0Z" fill="#1b74d0"/><path d="M1190.0,877.2 L1193.8,877.2 L1193.8,879.8 L1190.0,879.8Z" fill="#1b74d0"/><path d="M1061.2,733.5 L1067.5,734.8 L1066.2,743.5 L1058.8,751.0 L1057.5,748.5 L1064.5,741.5Z" fill="#1b74d0"/><path d="M1460.0,375.0 L1471.2,368.8 L1477.5,367.5 L1485.0,362.5 L1487.5,353.8 L1493.8,356.2 L1500.0,357.5 L1512.5,353.8 L1527.5,346.2 L1529.5,348.8 L1515.0,357.0 L1501.2,362.5 L1491.2,365.0 L1487.5,371.2 L1480.0,372.0 L1472.5,373.0 L1462.5,378.8Z" fill="#cc0000"/>
<g fill="none" stroke="#000" stroke-width="3.8" stroke-linejoin="round" stroke-linecap="round">
<path d="M352.0,235.5 L932.5,235.5 L932.5,226.2 L942.0,226.2 L945.0,240.0 L951.2,242.5 L960.0,244.5 L963.8,247.5 L975.0,245.0 L985.0,246.5 L990.0,252.5 L998.8,252.5 L1005.0,257.5 L1012.5,260.0 L1022.5,255.0 L1030.0,258.0 L1043.8,259.5 L1053.8,261.2 L1040.0,266.2 L1027.5,273.8 L1015.0,283.8 L1001.2,293.8 L993.0,297.0 L1005.0,294.5 L1015.0,292.0 L1022.5,288.8 L1028.0,289.5 L1023.8,298.8 L1030.0,296.2 L1037.5,298.8 L1050.0,291.2 L1062.5,287.5 L1072.5,281.2 L1080.0,276.2 L1090.0,275.8 L1086.2,280.5 L1077.5,287.5 L1075.0,293.8 L1083.8,290.0 L1092.5,293.8 L1100.0,301.2 L1110.0,302.5 L1122.5,297.0 L1137.5,295.5 L1148.8,294.5 L1150.0,301.2 L1162.5,302.5 L1166.2,312.5 L1171.2,314.5 L1150.0,313.8 L1137.5,312.5 L1126.2,315.0 L1115.0,317.5 L1105.0,317.5 L1102.5,322.5 L1097.5,332.5 L1091.2,340.0 L1086.2,347.5 L1083.8,352.5 L1090.0,345.0 L1097.5,336.2 L1106.2,326.2 L1102.5,335.0 L1098.8,345.0 L1093.8,357.5 L1090.0,372.5 L1088.0,387.5 L1089.5,405.0 L1093.0,420.0 L1098.8,428.8 L1106.2,427.0 L1113.8,422.5 L1119.5,410.0 L1122.0,395.0 L1118.8,380.0 L1115.8,367.5 L1118.0,360.8 L1120.8,351.2 L1123.2,346.0 L1128.8,340.8 L1135.2,335.2 L1137.5,341.2 L1140.0,332.5 L1148.8,330.0 L1146.0,324.8 L1151.2,318.0 L1153.0,315.0 L1165.0,322.5 L1177.5,328.8 L1183.8,337.5 L1182.5,350.0 L1177.5,362.5 L1171.2,369.5 L1173.8,377.5 L1182.5,368.8 L1192.5,365.0 L1198.0,371.2 L1200.0,385.0 L1201.2,395.0 L1195.0,403.8 L1190.0,412.5 L1182.5,423.8 L1190.0,432.0 L1185.1,431.1 L1190.9,435.3 L1200.1,435.3 L1213.5,431.9 L1223.5,426.1 L1233.5,421.9 L1241.9,419.4 L1253.6,414.4 L1263.6,408.5 L1271.1,403.5 L1277.8,399.4 L1275.3,393.5 L1271.9,389.3 L1273.6,385.2 L1283.6,383.1 L1297.0,383.8 L1304.5,387.7 L1316.2,386.8 L1324.6,381.8 L1332.1,378.5 L1332.9,370.1 L1328.7,365.1 L1333.7,360.1 L1340.4,355.9 L1345.4,350.1 L1352.1,345.1 L1360.5,340.5 L1431.5,340.0 L1434.0,333.4 L1444.0,331.7 L1447.5,330.0 L1456.2,315.0 L1458.8,306.2 L1462.5,297.5 L1471.2,286.2 L1480.0,276.2 L1483.8,276.2 L1485.0,281.2 L1500.0,278.0 L1511.2,287.5 L1511.2,322.5 L1517.5,326.2 L1518.8,335.0 L1526.2,338.8 L1527.5,346.2 L1520.0,350.0 L1512.5,353.8 L1506.2,355.0 L1500.0,357.5 L1493.8,356.2 L1487.5,353.8 L1485.0,362.5 L1477.5,367.5 L1471.2,368.8 L1462.5,372.5 L1457.5,377.5 L1452.5,382.5 L1448.8,390.0 L1447.0,398.8 L1454.0,384.0 L1447.0,396.5 L1449.5,403.0 L1445.0,406.0 L1441.5,410.0 L1442.5,414.0 L1447.0,414.5 L1450.0,419.0 L1452.5,424.0 L1454.0,427.0 L1460.0,426.5 L1464.0,426.0 L1465.5,423.0 L1464.0,419.5 L1460.0,417.5 L1458.0,418.5 L1460.0,417.5 L1464.0,419.5 L1465.5,423.0 L1465.5,430.0 L1460.0,429.5 L1455.0,428.5 L1451.0,430.0 L1448.0,432.0 L1445.0,433.0 L1440.0,434.0 L1436.0,434.5 L1433.0,431.5 L1431.5,434.0 L1428.0,437.0 L1423.0,438.5 L1416.0,438.0 L1410.0,438.5 L1402.0,438.0 L1395.0,441.5 L1389.0,442.5 L1384.5,444.0 L1382.0,448.0 L1377.0,454.0 L1373.0,459.0 L1374.0,461.5 L1381.0,461.0 L1381.0,461.0 L1380.5,470.0 L1378.5,478.0 L1373.5,485.0 L1369.0,490.0 L1365.0,496.0 L1361.5,500.5 L1359.5,501.8 L1357.5,504.2 L1357.0,506.0 L1358.5,510.0 L1357.5,516.0 L1355.0,523.0 L1353.0,529.0 L1358.0,505.0 L1358.5,512.0 L1356.0,520.0 L1352.0,529.0 L1346.0,536.0 L1342.0,543.0 L1338.5,550.0 L1339.0,554.0 L1340.5,560.0 L1342.0,566.0 L1344.0,573.0 L1346.0,579.0 L1343.0,572.5 L1348.0,583.0 L1343.8,589.5 L1338.2,595.5 L1332.0,598.0 L1326.2,612.5 L1315.0,613.8 L1307.5,617.5 L1300.0,625.0 L1296.2,632.5 L1287.5,633.8 L1282.5,633.8 L1276.2,641.2 L1271.2,648.8 L1267.5,655.0 L1260.0,660.0 L1253.8,665.0 L1246.2,670.0 L1238.8,673.8 L1236.2,680.0 L1231.2,683.8 L1227.5,692.5 L1223.8,701.2 L1221.2,710.0 L1221.2,717.5 L1223.8,730.0 L1227.5,745.0 L1232.5,760.0 L1237.5,775.0 L1240.0,783.0 L1243.8,788.5 L1248.8,803.5 L1252.5,818.5 L1251.2,833.5 L1250.0,846.0 L1245.0,858.5 L1237.5,863.0 L1228.8,861.0 L1225.0,851.0 L1217.5,844.8 L1212.5,831.0 L1205.0,818.5 L1198.8,806.0 L1197.5,792.2 L1195.0,783.5 L1196.2,771.0 L1192.5,759.8 L1182.5,751.0 L1175.0,741.0 L1167.5,734.0 L1161.2,736.0 L1150.0,742.2 L1138.8,743.5 L1132.5,731.0 L1120.0,724.8 L1105.0,722.2 L1095.0,724.8 L1086.2,727.2 L1083.8,716.0 L1080.0,726.5 L1075.0,726.5 L1065.0,726.0 L1055.0,727.2 L1058.8,733.5 L1056.2,738.5 L1050.0,748.5 L1053.8,762.2 L1058.8,762.2 L1062.5,757.2 L1052.5,756.0 L1041.2,749.8 L1035.0,757.2 L1025.0,761.0 L1018.8,756.0 L1012.5,749.8 L1007.5,742.2 L1000.0,741.0 L995.0,747.2 L987.5,747.2 L975.0,741.5 L962.5,742.2 L950.0,746.0 L940.0,743.5 L938.8,751.0 L932.5,758.5 L922.5,766.0 L910.0,772.2 L897.5,778.5 L890.0,788.5 L886.2,801.0 L882.5,811.0 L885.0,821.0 L888.8,833.5 L891.2,841.0 L886.2,844.8 L880.0,840.5 L871.2,839.8 L861.2,834.8 L850.0,831.0 L843.8,813.5 L841.2,801.0 L832.5,788.5 L822.5,771.0 L815.0,756.0 L808.8,751.0 L800.0,742.2 L782.5,740.5 L775.0,746.0 L771.2,757.2 L765.0,763.5 L760.0,762.2 L750.0,756.0 L740.0,748.5 L733.8,741.0 L731.2,731.0 L727.5,721.0 L720.0,716.0 L710.0,707.2 L700.0,698.5 L693.8,689.8 L693.8,690.1 L658.5,690.1 L658.5,702.0 L598.3,702.0 L519.6,671.4 L521.5,665.3 L471.0,670.3 L471.2,668.5 L468.8,661.0 L467.5,653.0 L462.5,645.5 L455.0,639.2 L446.2,636.8 L442.5,630.5 L433.8,629.2 L426.2,624.2 L420.0,620.5 L407.5,618.0 L398.8,615.5 L397.5,608.0 L395.0,600.5 L391.2,595.5 L383.8,588.0 L376.2,578.0 L370.0,566.8 L371.2,560.5 L370.0,554.2 L361.2,548.0 L358.8,538.0 L357.5,525.5 L348.8,524.2 L346.2,518.0 L342.5,510.5 L336.2,504.2 L331.2,495.5 L330.0,485.5 L327.5,475.5 L321.2,465.5 L317.5,459.2 L320.0,448.0 L323.8,438.0 L320.0,420.0 L317.5,405.0 L316.2,395.0 L322.5,375.0 L325.0,355.0 L327.5,332.5 L327.5,315.0 L327.5,308.8 L327.0,314.0 L326.5,311.0 L325.5,305.0 L325.0,297.0 L323.5,289.0 L322.0,282.0 L319.0,276.0 L316.5,268.0 L312.0,264.0 L311.0,258.0 L310.5,252.0 L312.5,251.2 L320.0,254.0 L326.0,256.5 L333.0,257.5 L340.0,258.5 L347.0,260.0 L352.0,262.0 L351.0,266.0 L347.0,272.0 L344.0,278.0 L345.0,284.0 L349.5,288.0 L354.0,286.0 L360.0,283.0 L362.5,278.0 L362.0,272.0 L362.5,265.0 L365.0,261.0 L362.5,258.0 L360.5,253.0 L360.0,247.0 L358.5,241.5 L352.5,240.0 L352.0,235.7Z"/>
<path stroke-width="4.3" d="M932.5,226.2 L942.0,226.2 L945.0,240.0 L951.2,242.5 L960.0,244.5 L963.8,247.5 L975.0,245.0 L985.0,246.5 L990.0,252.5 L998.8,252.5 L1005.0,257.5 L1012.5,260.0 L1022.5,255.0 L1030.0,258.0 L1043.8,259.5 L1053.8,261.2 L1040.0,266.2 L1027.5,273.8 L1015.0,283.8 L1001.2,293.8 L993.0,297.0 L1005.0,294.5 L1015.0,292.0 L1022.5,288.8 L1028.0,289.5 L1023.8,298.8 L1030.0,296.2 L1037.5,298.8 L1050.0,291.2 L1062.5,287.5 L1072.5,281.2 L1080.0,276.2 L1090.0,275.8 L1086.2,280.5 L1077.5,287.5 L1075.0,293.8 L1083.8,290.0 L1092.5,293.8 L1100.0,301.2 L1110.0,302.5 L1122.5,297.0 L1137.5,295.5 L1148.8,294.5 L1150.0,301.2 L1162.5,302.5 L1166.2,312.5 L1171.2,314.5 L1150.0,313.8 L1137.5,312.5 L1126.2,315.0 L1115.0,317.5 L1105.0,317.5 L1102.5,322.5 L1097.5,332.5 L1091.2,340.0 L1086.2,347.5 L1083.8,352.5 L1090.0,345.0 L1097.5,336.2 L1106.2,326.2 L1102.5,335.0 L1098.8,345.0 L1093.8,357.5 L1090.0,372.5 L1088.0,387.5 L1089.5,405.0 L1093.0,420.0 L1098.8,428.8 L1106.2,427.0 L1113.8,422.5 L1119.5,410.0 L1122.0,395.0 L1118.8,380.0 L1115.8,367.5 L1118.0,360.8 L1120.8,351.2 L1123.2,346.0 L1128.8,340.8 L1135.2,335.2 L1137.5,341.2 L1140.0,332.5 L1148.8,330.0 L1146.0,324.8 L1151.2,318.0 L1153.0,315.0 L1165.0,322.5 L1177.5,328.8 L1183.8,337.5 L1182.5,350.0 L1177.5,362.5 L1171.2,369.5 L1173.8,377.5 L1182.5,368.8 L1192.5,365.0 L1198.0,371.2 L1200.0,385.0 L1201.2,395.0 L1195.0,403.8 L1190.0,412.5 L1182.5,423.8 L1190.0,432.0 L1185.1,431.1 L1190.9,435.3 L1200.1,435.3 L1213.5,431.9 L1223.5,426.1 L1233.5,421.9 L1241.9,419.4 L1253.6,414.4 L1263.6,408.5 L1271.1,403.5 L1277.8,399.4 L1275.3,393.5 L1271.9,389.3 L1273.6,385.2 L1283.6,383.1 L1297.0,383.8 L1304.5,387.7 L1316.2,386.8 L1324.6,381.8 L1332.1,378.5 L1332.9,370.1 L1328.7,365.1 L1333.7,360.1 L1340.4,355.9 L1345.4,350.1 L1352.1,345.1 L1360.5,340.5 L1431.5,340.0 L1434.0,333.4 L1444.0,331.7 L1447.5,330.0 L1456.2,315.0 L1458.8,306.2 L1462.5,297.5 L1471.2,286.2 L1480.0,276.2 L1483.8,276.2 L1485.0,281.2 L1500.0,278.0 L1511.2,287.5 L1511.2,322.5 L1517.5,326.2 L1518.8,335.0 L1526.2,338.8 L1527.5,346.2 L1520.0,350.0 L1512.5,353.8 L1506.2,355.0 L1500.0,357.5 L1493.8,356.2 L1487.5,353.8 L1485.0,362.5 L1477.5,367.5 L1471.2,368.8 L1462.5,372.5 L1457.5,377.5 L1452.5,382.5 L1448.8,390.0 L1447.0,398.8 L1454.0,384.0 L1447.0,396.5 L1449.5,403.0 L1445.0,406.0 L1441.5,410.0 L1442.5,414.0 L1447.0,414.5 L1450.0,419.0 L1452.5,424.0 L1454.0,427.0 L1460.0,426.5 L1464.0,426.0 L1465.5,423.0 L1464.0,419.5 L1460.0,417.5 L1458.0,418.5 L1460.0,417.5 L1464.0,419.5 L1465.5,423.0 L1465.5,430.0 L1460.0,429.5 L1455.0,428.5 L1451.0,430.0 L1448.0,432.0 L1445.0,433.0 L1440.0,434.0 L1436.0,434.5 L1433.0,431.5 L1431.5,434.0 L1428.0,437.0 L1423.0,438.5 L1416.0,438.0 L1410.0,438.5 L1402.0,438.0 L1395.0,441.5 L1389.0,442.5 L1384.5,444.0 L1382.0,448.0 L1377.0,454.0 L1373.0,459.0 L1374.0,461.5 L1381.0,461.0 L1381.0,461.0 L1380.5,470.0 L1378.5,478.0 L1373.5,485.0 L1369.0,490.0 L1365.0,496.0 L1361.5,500.5 L1359.5,501.8 L1357.5,504.2 L1357.0,506.0 L1358.5,510.0 L1357.5,516.0 L1355.0,523.0 L1353.0,529.0 L1358.0,505.0 L1358.5,512.0 L1356.0,520.0 L1352.0,529.0 L1346.0,536.0 L1342.0,543.0 L1338.5,550.0 L1339.0,554.0 L1340.5,560.0 L1342.0,566.0 L1344.0,573.0 L1346.0,579.0 L1343.0,572.5 L1348.0,583.0 L1343.8,589.5 L1338.2,595.5 L1332.0,598.0 L1326.2,612.5 L1315.0,613.8 L1307.5,617.5 L1300.0,625.0 L1296.2,632.5 L1287.5,633.8 L1282.5,633.8 L1276.2,641.2 L1271.2,648.8 L1267.5,655.0 L1260.0,660.0 L1253.8,665.0 L1246.2,670.0 L1238.8,673.8 L1236.2,680.0 L1231.2,683.8 L1227.5,692.5 L1223.8,701.2 L1221.2,710.0 L1221.2,717.5 L1223.8,730.0 L1227.5,745.0 L1232.5,760.0 L1237.5,775.0 L1240.0,783.0 L1243.8,788.5 L1248.8,803.5 L1252.5,818.5 L1251.2,833.5 L1250.0,846.0 L1245.0,858.5 L1237.5,863.0 L1228.8,861.0 L1225.0,851.0 L1217.5,844.8 L1212.5,831.0 L1205.0,818.5 L1198.8,806.0 L1197.5,792.2 L1195.0,783.5 L1196.2,771.0 L1192.5,759.8 L1182.5,751.0 L1175.0,741.0 L1167.5,734.0 L1161.2,736.0 L1150.0,742.2 L1138.8,743.5 L1132.5,731.0 L1120.0,724.8 L1105.0,722.2 L1095.0,724.8 L1086.2,727.2 L1083.8,716.0 L1080.0,726.5 L1075.0,726.5 L1065.0,726.0 L1055.0,727.2 L1058.8,733.5 L1056.2,738.5 L1050.0,748.5 L1053.8,762.2 L1058.8,762.2 L1062.5,757.2 L1052.5,756.0 L1041.2,749.8 L1035.0,757.2 L1025.0,761.0 L1018.8,756.0 L1012.5,749.8 L1007.5,742.2 L1000.0,741.0 L995.0,747.2 L987.5,747.2 L975.0,741.5 L962.5,742.2 L950.0,746.0 L940.0,743.5 L938.8,751.0 L932.5,758.5 L922.5,766.0 L910.0,772.2 L897.5,778.5 L890.0,788.5 L886.2,801.0 L882.5,811.0 L885.0,821.0 L888.8,833.5 L891.2,841.0 L886.2,844.8 L880.0,840.5 L871.2,839.8 L861.2,834.8 L850.0,831.0 L843.8,813.5 L841.2,801.0 L832.5,788.5 L822.5,771.0 L815.0,756.0 L808.8,751.0 L800.0,742.2 L782.5,740.5 L775.0,746.0 L771.2,757.2 L765.0,763.5 L760.0,762.2 L750.0,756.0 L740.0,748.5 L733.8,741.0 L731.2,731.0 L727.5,721.0 L720.0,716.0 L710.0,707.2 L700.0,698.5 L693.8,689.8 M471.2,668.5 L468.8,661.0 L467.5,653.0 L462.5,645.5 L455.0,639.2 L446.2,636.8 L442.5,630.5 L433.8,629.2 L426.2,624.2 L420.0,620.5 L407.5,618.0 L398.8,615.5 L397.5,608.0 L395.0,600.5 L391.2,595.5 L383.8,588.0 L376.2,578.0 L370.0,566.8 L371.2,560.5 L370.0,554.2 L361.2,548.0 L358.8,538.0 L357.5,525.5 L348.8,524.2 L346.2,518.0 L342.5,510.5 L336.2,504.2 L331.2,495.5 L330.0,485.5 L327.5,475.5 L321.2,465.5 L317.5,459.2 L320.0,448.0 L323.8,438.0 L320.0,420.0 L317.5,405.0 L316.2,395.0 L322.5,375.0 L325.0,355.0 L327.5,332.5 L327.5,315.0 L327.5,308.8 L327.0,314.0 L326.5,311.0 L325.5,305.0 L325.0,297.0 L323.5,289.0 L322.0,282.0 L319.0,276.0 L316.5,268.0 L312.0,264.0 L311.0,258.0 L310.5,252.0 L312.5,251.2 L320.0,254.0 L326.0,256.5 L333.0,257.5 L340.0,258.5 L347.0,260.0 L352.0,262.0 L351.0,266.0 L347.0,272.0 L344.0,278.0 L345.0,284.0 L349.5,288.0 L354.0,286.0 L360.0,283.0 L362.5,278.0 L362.0,272.0 L362.5,265.0 L365.0,261.0 L362.5,258.0 L360.5,253.0 L360.0,247.0 L358.5,241.5 L352.5,240.0 L352.0,235.7"/>
<path d="M319.9,420.3 L598.7,420.3 M598.7,341.1 L598.7,446.7 M598.7,341.1 L746.0,341.1 M746.0,235.5 L746.0,446.7 M598.7,446.7 L788.1,446.7 M410.4,420.3 L410.4,499.5 L523.4,605.1 M640.8,446.7 L640.8,702.0 M535.8,552.3 L944.4,552.3 M788.1,446.7 L788.1,552.3 M788.1,473.1 L929.9,473.1 M768.1,552.3 L768.1,565.5 L767.3,565.5 L766.8,684.3 L691.9,684.3 L693.8,690.1 M768.1,565.5 L831.2,565.5 L831.2,616.7 M746.0,316.3 L903.6,316.3 M905.9,380.7 L1015.9,380.7 M920.0,457.2 L1010.0,456.0 L1012.5,461.8 L1010.0,465.5 M945.5,565.5 L1038.8,565.5 L1041.2,570.5 L1033.8,578.5 L1048.0,578.5 M956.6,657.9 L1017.0,657.9 M1028.1,407.1 L1087.9,407.1 M1112.5,426.5 L1151.2,427.0 L1182.5,424.5 M1151.2,427.0 L1150.6,496.9 M1241.1,420.8 L1241.1,480.5 M1241.1,480.5 L1340.6,480.5 M1257.1,413.2 L1257.1,420.3 L1349.8,420.3 M1200.0,513.0 L1201.2,524.2 L1208.8,534.2 L1215.0,543.0 L1218.8,545.5 M1180.0,562.5 L1197.5,551.8 L1207.5,541.8 L1218.8,545.5 M1036.2,603.5 L1162.5,603.5 L1182.5,606.8 M1083.8,604.2 L1080.0,628.0 L1076.2,661.0 L1073.8,686.0 L1076.2,723.5 M1095.0,724.8 L1096.2,719.8 L1091.2,709.8 L1146.2,709.8 M1150.0,717.2 L1207.5,721.8 L1207.5,727.2 L1210.0,714.8 L1221.2,715.5 M1348.0,476.0 L1344.0,477.0 L1342.5,480.0 L1343.0,514.0 L1354.0,514.0 M1363.0,436.9 L1383.0,446.1 M1441.5,331.7 L1442.3,361.8 L1444.0,383.5 L1447.3,393.5 M1394.5,400.5 L1436.0,401.5 L1440.0,398.0 L1445.0,396.0 L1447.0,396.5 M1391.0,418.5 L1435.0,418.5 L1435.5,424.0 L1437.5,427.0 L1435.0,429.0 L1432.5,432.0 M1426.0,418.5 L1426.0,437.0"/>
<path stroke-width="4.3" d="M327.5,308.8 L340.0,309.5 L348.8,312.5 L352.5,322.5 L361.2,326.2 L372.5,323.0 L385.0,324.5 L400.0,322.0 L415.0,317.5 L430.0,315.0 L450.0,314.5 L473.8,315.0 M472.8,235.5 L472.8,307.5 L475.5,311.2 L473.8,315.0 L482.5,320.0 L485.0,323.8 L481.2,332.5 L476.2,342.5 L470.0,352.5 L468.0,358.8 L475.0,362.5 L474.5,370.0 L472.8,375.0 L472.8,420.0 M493.2,235.0 L493.2,261.2 L500.0,271.2 L502.5,277.5 L510.0,282.5 L520.0,294.5 L530.0,297.0 L527.5,310.0 L525.0,317.5 L525.0,326.2 L530.0,328.8 L537.5,323.0 L542.5,330.0 L547.5,342.5 L555.0,347.5 L560.0,357.5 L572.5,353.0 L588.8,352.0 L592.5,347.5 L598.5,355.0 M535.8,420.3 L535.8,573.4 L530.0,576.8 L521.2,575.0 L520.0,580.5 L522.5,593.0 L523.8,601.8 L526.2,610.5 L528.8,618.0 L533.8,623.5 L527.5,630.5 L525.0,638.0 L521.2,645.5 L521.2,653.0 L525.0,661.0 L521.5,665.3 M831.2,616.8 L838.8,620.5 L847.5,619.2 L852.5,625.5 L865.0,628.0 L875.0,634.2 L887.5,633.0 L895.0,636.8 L907.5,638.0 L920.0,633.0 L932.5,631.8 L940.0,636.8 L950.0,641.8 L957.5,641.8 L957.5,658.0 M746.0,393.9 L862.8,393.9 L865.0,393.8 L875.0,400.0 L882.5,397.5 L892.5,398.8 L902.5,401.2 M890.0,236.2 L892.5,247.5 L891.2,257.5 L896.2,270.0 L898.8,285.0 L901.2,300.0 L903.8,311.2 L902.5,320.0 L897.5,324.5 L903.8,330.0 L907.0,335.0 L907.0,380.0 L903.0,381.2 L902.5,390.0 L906.2,395.0 L902.5,401.2 L907.5,410.0 L911.2,422.5 L915.0,432.5 L917.5,438.0 M917.5,438.0 L918.8,450.5 L922.5,458.0 L927.5,465.5 L932.5,473.0 L937.5,476.8 L935.0,483.0 L940.0,488.0 L944.2,495.5 L944.2,551.8 L945.5,565.5 L950.0,641.8 M956.6,643.4 L956.6,684.3 L961.2,693.5 L966.2,706.0 L963.8,718.5 L965.0,728.5 L961.2,737.2 L958.8,742.2 M993.0,297.0 L993.0,311.2 L985.0,315.0 L980.0,323.8 L985.0,330.0 L982.5,345.0 L990.0,351.2 L1000.0,356.2 L1010.0,365.0 L1015.0,371.2 L1016.2,380.0 L1018.8,387.5 L1018.8,395.0 L1027.5,403.8 L1036.2,412.5 L1038.8,421.2 L1035.0,430.0 L1022.5,435.0 L1020.0,438.0 L1022.5,445.5 L1017.5,453.0 L1011.2,458.0 L1010.0,468.0 L1012.5,478.0 L1020.0,488.0 L1027.5,495.5 L1030.0,503.0 L1036.2,504.2 L1037.5,510.5 L1033.8,518.0 L1040.0,524.2 L1047.5,530.5 L1052.5,538.0 L1055.0,545.5 L1058.8,549.2 L1061.2,555.5 L1058.8,563.0 L1051.2,568.0 L1050.0,574.2 L1045.0,585.5 L1038.8,593.0 L1036.2,603.0 L1031.2,610.5 L1027.5,620.5 L1021.2,630.5 L1017.5,640.5 L1016.2,650.5 L1018.8,660.5 L1022.5,671.0 L1018.8,679.8 L1012.5,688.5 L1008.8,701.0 L1007.5,709.8 L1048.8,709.8 L1047.5,721.0 L1051.2,729.8 L1055.0,733.5 M1027.5,292.5 L1023.8,297.5 L1037.5,302.5 L1047.5,307.0 L1061.2,311.2 L1075.0,315.0 L1086.2,322.5 L1090.0,335.0 M1093.6,426.6 L1093.6,490.3 L1092.5,500.5 L1095.0,506.8 L1088.8,518.0 L1083.8,524.2 L1083.8,529.2 M1058.8,549.2 L1065.0,546.8 L1072.5,544.2 L1080.0,538.0 L1083.8,529.2 L1090.0,528.0 L1100.0,526.8 L1107.5,529.2 L1115.0,521.8 L1125.0,524.2 L1135.0,513.0 L1142.5,505.5 L1151.2,504.2 L1152.5,496.8 L1160.0,500.5 L1170.0,505.5 L1182.5,506.8 L1192.5,505.5 L1200.0,513.0 L1205.0,506.8 L1212.5,498.0 L1225.0,488.0 L1235.0,480.5 L1240.0,465.5 L1240.0,456.8 L1241.2,438.0 M1052.5,564.8 L1082.5,564.2 L1082.5,561.0 L1140.0,561.8 L1180.0,562.5 L1218.8,562.8 L1265.0,563.8 L1336.2,564.2 L1339.0,564.3 M1162.5,603.5 L1167.5,595.5 L1177.5,589.2 L1190.0,581.8 L1200.0,575.5 L1210.0,570.5 L1218.0,563.0 M1133.8,604.2 L1140.0,633.0 L1145.0,661.0 L1148.8,673.5 L1146.2,688.5 L1146.2,708.5 L1150.0,717.2 M1180.0,610.0 L1191.2,620.0 L1198.8,632.5 L1210.0,645.0 L1220.0,657.5 L1225.0,667.5 L1228.8,677.5 L1231.2,683.8 M1180.0,610.0 L1190.0,603.8 L1202.5,600.0 L1231.2,600.0 L1237.5,608.8 L1260.0,609.2 L1282.5,633.8 M1218.8,545.5 L1230.0,543.8 L1240.0,540.5 L1247.0,535.5 L1250.5,528.0 L1255.0,519.5 L1260.0,513.8 L1250.0,529.0 L1252.0,526.0 L1256.0,519.0 L1258.5,512.0 L1260.0,510.0 L1264.0,514.0 L1269.0,510.0 L1272.0,505.0 L1275.5,505.0 L1278.0,501.0 L1283.0,497.5 L1285.0,492.0 L1287.0,486.0 L1298.0,495.5 L1300.0,491.0 M1263.5,480.0 L1263.5,494.0 L1270.0,489.0 L1276.0,485.0 L1280.0,483.0 L1290.0,482.5 L1299.0,483.5 L1301.0,488.0 L1300.0,491.0 L1305.0,494.0 L1310.0,497.0 L1316.0,499.0 L1318.0,502.0 L1314.0,506.0 L1310.0,510.0 L1309.0,514.0 L1310.0,511.0 L1309.5,515.0 L1312.0,516.5 L1315.0,513.5 L1320.0,517.0 L1325.0,521.0 L1330.0,525.0 L1332.0,528.0 M1351.3,419.9 L1356.3,425.2 L1358.0,432.8 L1363.0,436.9 L1356.3,446.1 L1353.8,453.6 L1358.0,460.3 L1365.5,469.0 L1353.5,456.0 L1359.0,461.0 L1365.0,468.0 L1360.0,470.0 L1355.0,474.0 L1350.0,476.5 L1346.0,478.0 L1345.0,484.0 L1349.0,490.0 L1351.0,492.0 M1392.2,340.5 L1393.0,353.4 L1390.5,366.8 L1391.4,378.5 L1395.5,383.5 L1395.5,399.4 L1391.4,416.9 L1389.7,428.6 L1390.2,442.8 L1383.9,447.0 M1434.0,333.4 L1429.8,348.4 L1430.6,353.4 L1421.4,359.3 L1418.1,370.1 L1413.1,378.5 L1410.6,390.2 L1409.7,399.9"/>
</g>
<g fill="none" stroke="#000" stroke-linejoin="round" stroke-linecap="round"><path stroke-width="3.7" d="M1318.0,525.0 L1323.0,530.0 L1329.0,534.0 M1320.0,538.0 L1325.0,542.0 L1329.0,546.0 M1316.0,545.0 L1321.0,549.0 L1326.0,554.0 L1330.0,556.0 L1336.0,554.0 M1344.0,532.0 L1346.0,528.0 L1350.0,526.0 M1339.0,482.0 L1336.0,487.0 L1334.0,492.0 L1333.0,498.0 L1335.0,504.0 L1334.0,510.0 M1361.5,500.5 L1361.5,495.5 L1355.0,494.5 L1350.0,490.0 L1346.0,484.0 M1346.0,484.0 L1347.0,490.0 L1350.0,496.0 L1353.0,502.0 L1357.0,506.0 M1335.0,581.0 L1333.0,588.0 L1340.0,590.0 L1344.0,585.0 M1322.0,600.0 L1326.0,608.0 M1378.0,457.0 L1386.0,452.0 L1394.0,449.0 L1402.0,446.0 L1410.0,444.0 L1415.0,441.0 L1417.0,440.0 L1413.0,445.0 L1420.0,444.0 L1425.0,444.5 M1384.5,444.0 L1389.0,446.0 L1395.0,445.0 L1402.0,442.5 L1410.0,441.0 M1373.0,460.0 L1382.0,459.5 L1389.0,458.0 L1396.0,457.5 L1404.0,455.0 L1412.0,451.5 L1420.0,448.0 L1425.0,445.0 M1055.0,727.2 L1047.5,732.2 L1038.8,734.8 L1033.0,731.0 L1037.5,726.0 L1045.0,729.8"/><path stroke-width="5.5" d="M348.0,246.5 L350.0,247.5 L347.0,249.0 M324.0,289.0 L331.0,288.5 M325.5,296.0 L330.5,296.0 L328.5,299.0 M357.5,524.2 L363.8,523.0 L361.2,529.2 L365.0,534.2 L362.5,536.8 L368.8,539.2 M1324.0,492.0 L1326.0,498.0 L1327.0,505.0 L1325.0,513.0 L1329.0,519.0 L1331.0,527.0 L1330.0,534.0 L1330.0,542.0 L1329.0,550.0 L1333.0,555.0 M1333.0,492.0 L1334.0,500.0 L1333.0,508.0 L1337.0,516.0 L1340.0,521.0 L1342.0,525.0 L1340.0,530.0 L1338.0,537.0 L1336.0,544.0 L1337.0,550.0 M1328.0,498.0 L1330.0,505.0 L1330.0,512.0 L1333.0,520.0 L1335.0,526.0 M1339.0,482.0 L1334.0,485.0 L1328.0,489.0 L1324.0,492.0 L1325.0,498.0 L1326.0,504.0 L1324.0,510.0 M1330.0,490.0 L1331.0,496.0 L1330.0,502.0 L1332.0,508.0 M1343.0,572.0 L1335.0,574.0 L1322.0,573.0 L1321.0,580.0 L1330.0,581.0 L1340.0,578.0 L1344.0,584.0 M1315.0,590.0 L1325.0,592.0 L1330.0,596.0 L1322.0,600.0 L1314.0,601.0 L1322.0,606.0 L1330.0,605.0 L1325.0,612.0 L1315.0,612.0 M1433.0,432.0 L1435.0,428.0 L1437.5,430.0 L1439.0,427.0 M1448.0,432.0 L1451.5,429.0 L1453.0,431.0 M1203.8,816.0 L1210.0,817.2 L1208.8,822.2 M1083.8,714.8 L1085.0,726.0 M1046.2,732.2 L1050.0,736.0 L1055.0,733.5 M936.2,742.2 L943.8,740.5 L940.0,748.5 M897.5,777.2 L901.2,769.8 L911.2,769.8 M877.5,803.5 L886.2,804.8 L882.5,809.8 M882.5,792.2 L890.0,793.5 M1101.2,722.2 L1105.0,721.0 M1116.2,722.2 L1121.2,723.5 M1130.0,728.5 L1133.8,729.8 M1000.0,741.0 L1005.0,742.2 L1001.2,744.8 M1028.8,756.0 L1032.5,757.2 M1227.5,859.8 L1233.8,861.0 M1105.0,317.0 L1115.0,317.5 M1102.5,332.5 L1100.0,340.0 M1083.8,352.5 L1090.0,345.0 L1097.5,336.2 L1105.0,327.5"/><path stroke-width="3" fill="#000" d="M352.0,235.7 L352.5,240.0 L358.5,241.5 L360.0,247.0 L360.5,253.0 L362.5,258.0 L365.0,261.0 L362.5,265.0 L362.0,272.0 L362.5,278.0 L360.0,283.0 L354.0,286.0 L349.5,288.0 L345.0,284.0 L344.0,278.0 L347.0,272.0 L351.0,266.0 L352.0,262.0 L347.0,260.0 L350.0,258.0 L354.0,255.0 L352.0,252.0 L347.0,251.5 L343.0,248.0 L344.0,244.5 L349.0,242.0 L352.0,244.0 L353.5,241.0Z M1445.0,436.0 L1450.0,434.5 L1455.0,435.5 L1454.5,439.0 L1449.0,440.0 L1445.0,439.0Z M1458.0,437.0 L1462.0,435.5 L1466.0,437.5 L1465.5,441.0 L1460.0,441.5Z M1192.5,787.2 L1201.2,788.5 L1203.8,794.8 L1200.0,801.0 L1195.0,796.0Z M1133.8,338.8 L1138.8,337.5 L1141.2,342.5 L1138.8,347.5 L1134.5,346.2Z"/></g>
</svg>
<div class="t title">Emerald ash borer: OWlarvae relative pop. size w/ climate stress<br>exclusion 04/16/2026</div>
<div class="t sub">Maps and modeling 04/16/2026 by Oregon State University IPPC USPEST.ORG and<br>USDA-APHIS-PPQ; climate data from OSU PRISM Climate Group</div>
<div class="t lt">Relative pop. size</div>
<div class="sw" style="top:417.00px;background:#4d4d4d"></div>
<div class="t ll" style="top:417.40px">excl.-severe</div>
<div class="sw" style="top:442.45px;background:#b3b3b3"></div>
<div class="t ll" style="top:442.85px">excl.-moderate</div>
<div class="sw" style="top:467.90px;background:#1b74d0"></div>
<div class="t ll" style="top:468.30px">0-10</div>
<div class="sw" style="top:493.35px;background:#4a91a3"></div>
<div class="t ll" style="top:493.75px">10-20</div>
<div class="sw" style="top:518.80px;background:#7aad74"></div>
<div class="t ll" style="top:519.20px">20-30</div>
<div class="sw" style="top:544.25px;background:#b1d143"></div>
<div class="t ll" style="top:544.65px">30-40</div>
<div class="sw" style="top:569.70px;background:#e5ef16"></div>
<div class="t ll" style="top:570.10px">40-50</div>
<div class="sw" style="top:595.15px;background:#fae200"></div>
<div class="t ll" style="top:595.55px">50-60</div>
<div class="sw" style="top:620.60px;background:#f0a800"></div>
<div class="t ll" style="top:621.00px">60-70</div>
<div class="sw" style="top:646.05px;background:#e67100"></div>
<div class="t ll" style="top:646.45px">70-80</div>
<div class="sw" style="top:671.50px;background:#dc3900"></div>
<div class="t ll" style="top:671.90px">80-90</div>
<div class="sw" style="top:696.95px;background:#cc0000"></div>
<div class="t ll" style="top:697.35px">90-100</div>
</body></html>
